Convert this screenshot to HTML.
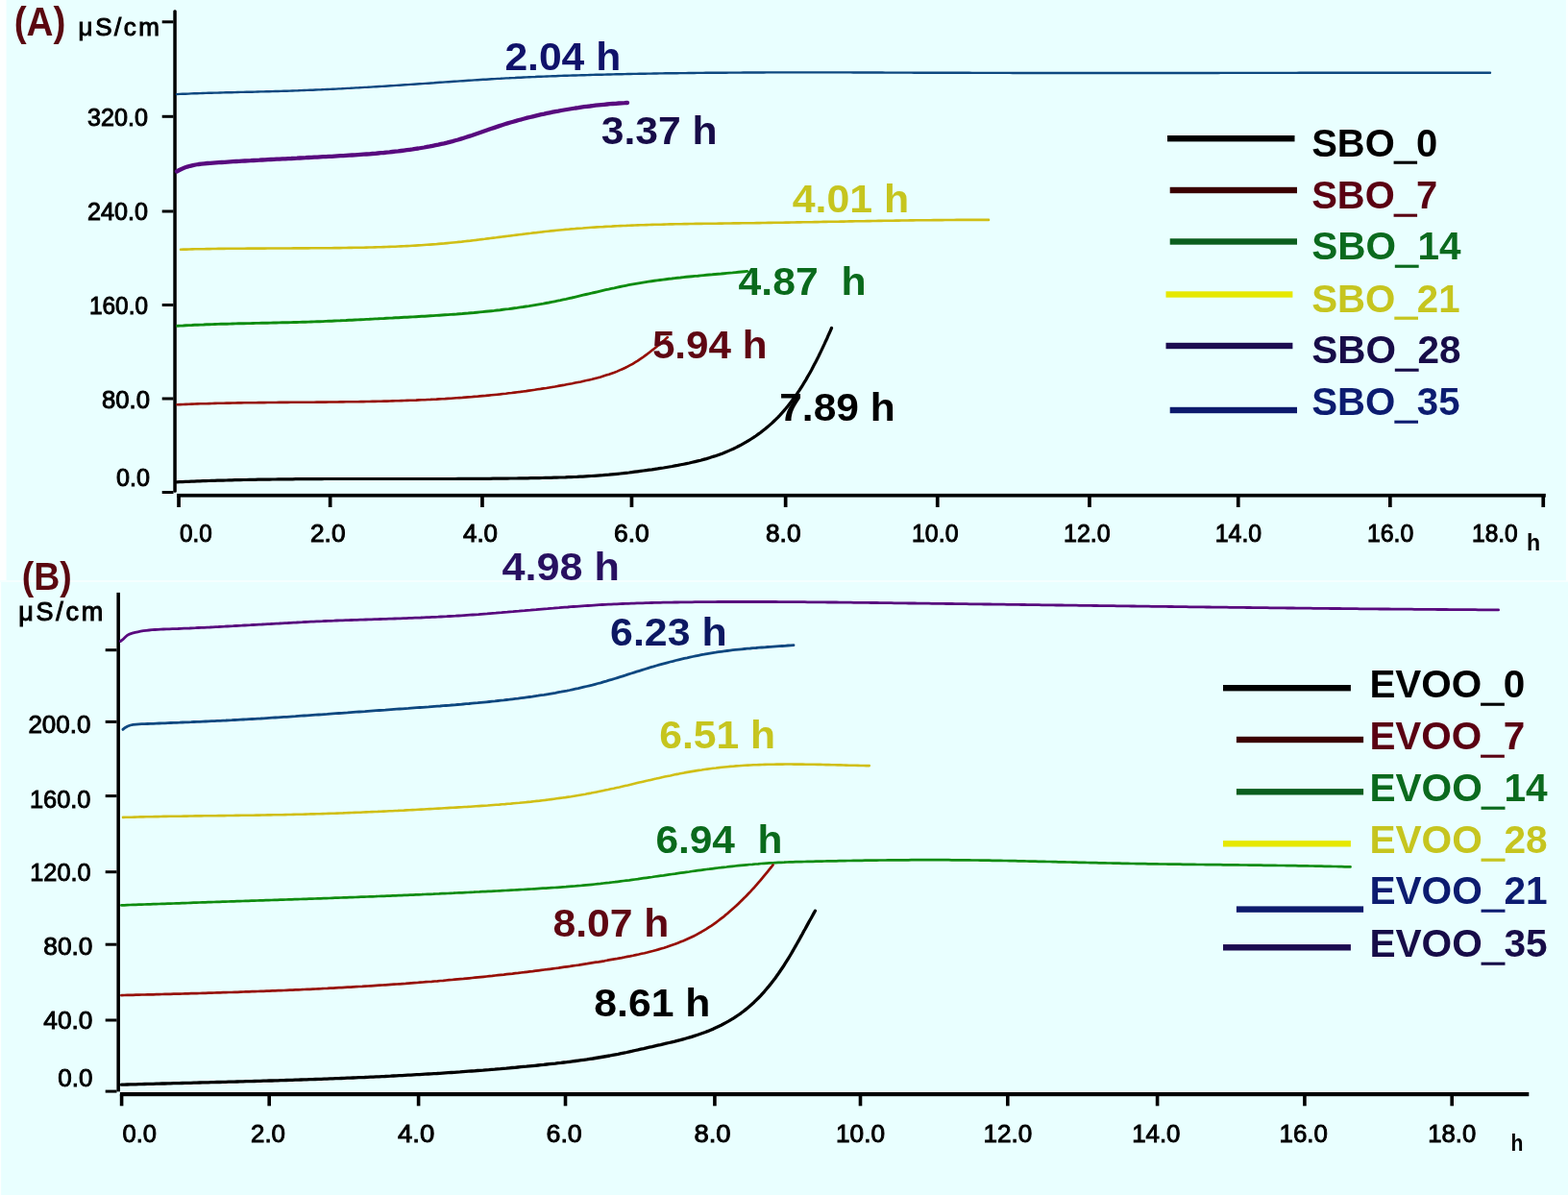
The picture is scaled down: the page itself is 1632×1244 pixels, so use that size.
<!DOCTYPE html>
<html><head><meta charset="utf-8"><title>Conductivity curves</title>
<style>html,body{margin:0;padding:0;background:#e9ffff;}svg{display:block;}</style>
</head><body>
<svg width="1632" height="1244" viewBox="0 0 1632 1244">
<rect x="0" y="0" width="1632" height="1244" fill="#e9ffff"/>
<rect x="0" y="0" width="6.6" height="604.5" fill="#fdffff"/>
<rect x="0" y="604.1" width="1632" height="1.9" fill="#f5ffff"/>
<rect x="1629.9" y="0" width="2.1" height="604.5" fill="#fdffff"/>
<rect x="0" y="606" width="1.1" height="638" fill="#fdffff"/>
<g fill="#000"><rect x="180.3" y="10.3" width="3.5" height="502.5" rx="1.5"/><rect x="168.7" y="21.3" width="11.8" height="3"/><rect x="168.7" y="119.8" width="11.8" height="3"/><rect x="168.7" y="218.5" width="11.8" height="3"/><rect x="168.7" y="316.0" width="11.8" height="3"/><rect x="168.7" y="413.5" width="11.8" height="3"/><rect x="168.7" y="511.0" width="11.8" height="3"/><rect x="184" y="513.9" width="1424.8" height="3.7"/><rect x="184.2" y="515" width="3.7" height="13"/><rect x="341.8" y="515" width="3.7" height="13"/><rect x="500.1" y="515" width="3.7" height="13"/><rect x="655.6" y="515" width="3.7" height="13"/><rect x="815.8" y="515" width="3.7" height="13"/><rect x="973.9" y="515" width="3.7" height="13"/><rect x="1132.1" y="515" width="3.7" height="13"/><rect x="1286.9" y="515" width="3.7" height="13"/><rect x="1445.0" y="515" width="3.7" height="13"/><rect x="1604.4" y="515" width="3.7" height="13"/><rect x="121.4" y="616.9" width="3.6" height="519.5"/><rect x="109.7" y="675.2" width="11.8" height="3"/><rect x="109.7" y="749.9" width="11.8" height="3"/><rect x="109.7" y="827.1" width="11.8" height="3"/><rect x="109.7" y="906.2" width="11.8" height="3"/><rect x="109.7" y="981.7" width="11.8" height="3"/><rect x="109.7" y="1060.5" width="11.8" height="3"/><rect x="109.7" y="1134.6" width="11.8" height="3"/><rect x="124.9" y="1137" width="1466.4" height="4.2"/><rect x="124.8" y="1139" width="3.6" height="12.3"/><rect x="278.4" y="1139" width="3.6" height="12.3"/><rect x="433.8" y="1139" width="3.6" height="12.3"/><rect x="586.7" y="1139" width="3.6" height="12.3"/><rect x="742.1" y="1139" width="3.6" height="12.3"/><rect x="893.7" y="1139" width="3.6" height="12.3"/><rect x="1047.0" y="1139" width="3.6" height="12.3"/><rect x="1202.8" y="1139" width="3.6" height="12.3"/><rect x="1356.1" y="1139" width="3.6" height="12.3"/><rect x="1509.4" y="1139" width="3.6" height="12.3"/></g>
<path d="M184.0,98.1 L187.0,97.9 L190.0,97.8 L193.0,97.7 L196.0,97.6 L199.0,97.4 L202.1,97.3 L205.1,97.2 L208.1,97.1 L211.1,97.0 L214.1,96.9 L217.1,96.8 L220.1,96.7 L223.1,96.6 L226.1,96.6 L229.1,96.5 L232.2,96.4 L235.2,96.3 L238.2,96.2 L241.2,96.2 L244.2,96.1 L247.2,96.0 L250.2,95.9 L253.2,95.9 L256.3,95.8 L259.3,95.7 L262.3,95.7 L265.3,95.6 L268.3,95.5 L271.3,95.4 L274.3,95.4 L277.3,95.3 L280.3,95.2 L283.4,95.1 L286.4,95.0 L289.4,95.0 L292.4,94.9 L295.4,94.8 L298.4,94.7 L301.4,94.6 L304.4,94.5 L307.4,94.4 L310.4,94.3 L313.5,94.1 L316.5,94.0 L319.5,93.9 L322.5,93.8 L325.5,93.7 L328.5,93.5 L331.5,93.4 L334.5,93.3 L337.5,93.1 L340.5,93.0 L343.5,92.9 L346.6,92.7 L349.6,92.6 L352.6,92.4 L355.6,92.3 L358.6,92.1 L361.6,91.9 L364.6,91.8 L367.6,91.6 L370.6,91.4 L373.6,91.3 L376.6,91.1 L379.6,90.9 L382.6,90.8 L385.7,90.6 L388.7,90.4 L391.7,90.2 L394.7,90.0 L397.7,89.9 L400.7,89.7 L403.7,89.5 L406.7,89.3 L409.7,89.1 L412.7,88.9 L415.7,88.7 L418.7,88.5 L421.7,88.3 L424.7,88.1 L427.7,87.9 L430.7,87.7 L433.7,87.5 L436.8,87.3 L439.8,87.1 L442.8,86.9 L445.8,86.7 L448.8,86.5 L451.8,86.3 L454.8,86.0 L457.8,85.8 L460.8,85.6 L463.8,85.4 L466.8,85.2 L469.8,85.0 L472.8,84.8 L475.8,84.6 L478.8,84.4 L481.8,84.2 L484.8,84.0 L487.8,83.8 L490.9,83.6 L493.9,83.4 L496.9,83.2 L499.9,83.0 L502.9,82.8 L505.9,82.7 L508.9,82.5 L511.9,82.3 L514.9,82.1 L517.9,81.9 L520.9,81.8 L523.9,81.6 L526.9,81.4 L529.9,81.3 L533.0,81.1 L536.0,81.0 L539.0,80.8 L542.0,80.7 L545.0,80.5 L548.0,80.4 L551.0,80.2 L554.0,80.1 L557.0,80.0 L560.0,79.8 L563.0,79.7 L566.0,79.6 L569.1,79.5 L572.1,79.4 L575.1,79.3 L578.1,79.2 L581.1,79.0 L584.1,78.9 L587.1,78.8 L590.1,78.7 L593.1,78.6 L596.2,78.5 L599.2,78.5 L602.2,78.4 L605.2,78.3 L608.2,78.2 L611.2,78.1 L614.2,78.0 L617.2,77.9 L620.2,77.8 L623.2,77.8 L626.3,77.7 L629.3,77.6 L632.3,77.5 L635.3,77.5 L638.3,77.4 L641.3,77.3 L644.3,77.2 L647.3,77.2 L650.3,77.1 L653.4,77.0 L656.4,77.0 L659.4,76.9 L662.4,76.9 L665.4,76.8 L668.4,76.7 L671.4,76.7 L674.4,76.6 L677.4,76.6 L680.5,76.5 L683.5,76.5 L686.5,76.4 L689.5,76.4 L692.5,76.3 L695.5,76.3 L698.5,76.3 L701.5,76.2 L704.6,76.2 L707.6,76.1 L710.6,76.1 L713.6,76.1 L716.6,76.0 L719.6,76.0 L722.6,76.0 L725.6,75.9 L728.6,75.9 L731.7,75.9 L734.7,75.8 L737.7,75.8 L740.7,75.8 L743.7,75.7 L746.7,75.7 L749.7,75.7 L752.7,75.7 L755.8,75.7 L758.8,75.6 L761.8,75.6 L764.8,75.6 L767.8,75.6 L770.8,75.6 L773.8,75.5 L776.8,75.5 L779.9,75.5 L782.9,75.5 L785.9,75.5 L788.9,75.5 L791.9,75.5 L794.9,75.5 L797.9,75.4 L800.9,75.4 L803.9,75.4 L807.0,75.4 L810.0,75.4 L813.0,75.4 L816.0,75.4 L819.0,75.4 L822.0,75.4 L825.0,75.4 L828.0,75.4 L831.1,75.4 L834.1,75.4 L837.1,75.4 L840.1,75.4 L843.1,75.4 L846.1,75.4 L849.1,75.4 L852.1,75.4 L855.2,75.4 L858.2,75.4 L861.2,75.4 L864.2,75.4 L867.2,75.4 L870.2,75.4 L873.2,75.4 L876.2,75.4 L879.3,75.4 L882.3,75.4 L885.3,75.4 L888.3,75.5 L891.3,75.5 L894.3,75.5 L897.3,75.5 L900.3,75.5 L903.4,75.5 L906.4,75.5 L909.4,75.5 L912.4,75.5 L915.4,75.5 L918.4,75.5 L921.4,75.6 L924.4,75.6 L927.5,75.6 L930.5,75.6 L933.5,75.6 L936.5,75.6 L939.5,75.6 L942.5,75.6 L945.5,75.6 L948.5,75.6 L951.6,75.7 L954.6,75.7 L957.6,75.7 L960.6,75.7 L963.6,75.7 L966.6,75.7 L969.6,75.7 L972.6,75.7 L975.7,75.7 L978.7,75.8 L981.7,75.8 L984.7,75.8 L987.7,75.8 L990.7,75.8 L993.7,75.8 L996.7,75.8 L999.8,75.8 L1002.8,75.8 L1005.8,75.8 L1008.8,75.8 L1011.8,75.9 L1014.8,75.9 L1017.8,75.9 L1020.8,75.9 L1023.9,75.9 L1026.9,75.9 L1029.9,75.9 L1032.9,75.9 L1035.9,75.9 L1038.9,75.9 L1041.9,75.9 L1044.9,75.9 L1048.0,75.9 L1051.0,75.9 L1054.0,76.0 L1057.0,76.0 L1060.0,76.0 L1063.0,76.0 L1066.0,76.0 L1069.0,76.0 L1072.1,76.0 L1075.1,76.0 L1078.1,76.0 L1081.1,76.0 L1084.1,76.0 L1087.1,76.0 L1090.1,76.0 L1093.1,76.0 L1096.2,76.0 L1099.2,76.0 L1102.2,76.0 L1105.2,76.0 L1108.2,76.0 L1111.2,76.0 L1114.2,76.0 L1117.2,76.0 L1120.3,76.0 L1123.3,76.0 L1126.3,76.0 L1129.3,76.0 L1132.3,76.0 L1135.3,76.0 L1138.3,76.0 L1141.3,76.0 L1144.4,76.0 L1147.4,76.0 L1150.4,76.0 L1153.4,76.0 L1156.4,76.0 L1159.4,76.0 L1162.4,76.0 L1165.4,76.0 L1168.4,76.0 L1171.5,76.0 L1174.5,76.0 L1177.5,76.0 L1180.5,76.0 L1183.5,76.0 L1186.5,76.0 L1189.5,76.0 L1192.5,76.0 L1195.6,76.0 L1198.6,76.0 L1201.6,76.0 L1204.6,76.0 L1207.6,76.0 L1210.6,76.0 L1213.6,76.0 L1216.6,76.0 L1219.7,76.0 L1222.7,76.0 L1225.7,76.0 L1228.7,76.0 L1231.7,76.0 L1234.7,76.0 L1237.7,76.0 L1240.7,76.0 L1243.8,76.0 L1246.8,76.0 L1249.8,76.0 L1252.8,76.0 L1255.8,76.0 L1258.8,76.0 L1261.8,76.0 L1264.8,76.0 L1267.8,76.0 L1270.9,75.9 L1273.9,75.9 L1276.9,75.9 L1279.9,75.9 L1282.9,75.9 L1285.9,75.9 L1288.9,75.9 L1291.9,75.9 L1295.0,75.9 L1298.0,75.9 L1301.0,75.9 L1304.0,75.9 L1307.0,75.9 L1310.0,75.9 L1313.0,75.9 L1316.0,75.9 L1319.1,75.9 L1322.1,75.9 L1325.1,75.9 L1328.1,75.9 L1331.1,75.9 L1334.1,75.9 L1337.1,75.9 L1340.1,75.9 L1343.2,75.9 L1346.2,75.9 L1349.2,75.9 L1352.2,75.8 L1355.2,75.8 L1358.2,75.8 L1361.2,75.8 L1364.2,75.8 L1367.2,75.8 L1370.3,75.8 L1373.3,75.8 L1376.3,75.8 L1379.3,75.8 L1382.3,75.8 L1385.3,75.8 L1388.3,75.8 L1391.3,75.8 L1394.4,75.8 L1397.4,75.8 L1400.4,75.8 L1403.4,75.8 L1406.4,75.8 L1409.4,75.8 L1412.4,75.8 L1415.4,75.8 L1418.5,75.8 L1421.5,75.8 L1424.5,75.8 L1427.5,75.8 L1430.5,75.8 L1433.5,75.8 L1436.5,75.8 L1439.5,75.8 L1442.6,75.8 L1445.6,75.7 L1448.6,75.7 L1451.6,75.7 L1454.6,75.7 L1457.6,75.7 L1460.6,75.7 L1463.6,75.7 L1466.7,75.7 L1469.7,75.7 L1472.7,75.7 L1475.7,75.7 L1478.7,75.7 L1481.7,75.7 L1484.7,75.7 L1487.7,75.7 L1490.8,75.7 L1493.8,75.7 L1496.8,75.7 L1499.8,75.7 L1502.8,75.7 L1505.8,75.7 L1508.8,75.7 L1511.8,75.7 L1514.9,75.7 L1517.9,75.7 L1520.9,75.7 L1523.9,75.7 L1526.9,75.7 L1529.9,75.7 L1532.9,75.7 L1535.9,75.7 L1539.0,75.7 L1542.0,75.7 L1545.0,75.7 L1548.0,75.7 L1551.0,75.7" fill="none" stroke="#0e4880" stroke-width="2.4" stroke-linecap="round" stroke-linejoin="round"/>
<path d="M184.0,178.5 L186.7,177.0 L189.4,175.7 L192.2,174.6 L195.0,173.6 L197.8,172.8 L200.7,172.1 L203.6,171.5 L206.6,171.0 L209.6,170.6 L212.6,170.3 L215.6,170.0 L218.6,169.8 L221.6,169.6 L224.6,169.4 L227.7,169.2 L230.7,169.0 L233.7,168.8 L236.7,168.6 L239.7,168.4 L242.7,168.2 L245.8,168.0 L248.8,167.9 L251.8,167.7 L254.8,167.5 L257.8,167.3 L260.9,167.2 L263.9,167.0 L266.9,166.8 L269.9,166.7 L272.9,166.5 L275.9,166.4 L278.9,166.2 L282.0,166.0 L285.0,165.9 L288.0,165.7 L291.0,165.6 L294.0,165.4 L297.0,165.3 L300.0,165.1 L303.1,165.0 L306.1,164.8 L309.1,164.7 L312.1,164.5 L315.1,164.3 L318.1,164.2 L321.1,164.0 L324.2,163.9 L327.2,163.7 L330.2,163.6 L333.2,163.4 L336.2,163.2 L339.2,163.1 L342.2,162.9 L345.3,162.8 L348.3,162.6 L351.3,162.4 L354.3,162.2 L357.3,162.1 L360.3,161.9 L363.4,161.7 L366.4,161.5 L369.4,161.3 L372.4,161.1 L375.4,160.9 L378.4,160.7 L381.4,160.5 L384.5,160.3 L387.5,160.0 L390.5,159.8 L393.5,159.5 L396.5,159.2 L399.5,159.0 L402.5,158.7 L405.5,158.4 L408.5,158.0 L411.5,157.7 L414.5,157.4 L417.5,157.0 L420.5,156.6 L423.5,156.2 L426.5,155.8 L429.5,155.4 L432.5,154.9 L435.4,154.5 L438.4,154.0 L441.4,153.5 L444.4,152.9 L447.3,152.4 L450.3,151.8 L453.3,151.2 L456.2,150.6 L459.2,149.9 L462.1,149.3 L465.0,148.6 L468.0,147.8 L470.9,147.1 L473.8,146.3 L476.7,145.5 L479.6,144.6 L482.5,143.7 L485.4,142.8 L488.2,141.9 L491.1,141.0 L493.9,140.0 L496.8,139.0 L499.7,138.0 L502.5,137.0 L505.4,136.0 L508.2,135.0 L511.1,134.0 L513.9,133.1 L516.8,132.1 L519.7,131.1 L522.5,130.2 L525.4,129.3 L528.3,128.4 L531.2,127.5 L534.1,126.7 L537.0,125.9 L539.9,125.0 L542.8,124.3 L545.7,123.5 L548.7,122.7 L551.6,122.0 L554.5,121.3 L557.4,120.6 L560.4,119.9 L563.3,119.2 L566.3,118.6 L569.2,117.9 L572.2,117.3 L575.2,116.7 L578.1,116.1 L581.1,115.6 L584.1,115.0 L587.0,114.5 L590.0,114.0 L593.0,113.5 L596.0,113.0 L599.0,112.5 L601.9,112.1 L604.9,111.6 L607.9,111.2 L610.9,110.8 L613.9,110.5 L616.9,110.1 L619.9,109.7 L622.9,109.4 L625.9,109.1 L628.9,108.8 L631.9,108.5 L634.9,108.2 L637.9,108.0 L640.9,107.8 L644.0,107.5 L647.0,107.3 L650.0,107.2 L653.0,107.0" fill="none" stroke="#580a7e" stroke-width="4.3" stroke-linecap="round" stroke-linejoin="round"/>
<path d="M188.0,259.7 L191.0,259.6 L194.0,259.6 L197.0,259.5 L200.1,259.4 L203.1,259.3 L206.1,259.3 L209.1,259.2 L212.1,259.2 L215.1,259.1 L218.2,259.1 L221.2,259.0 L224.2,259.0 L227.2,258.9 L230.2,258.9 L233.3,258.9 L236.3,258.8 L239.3,258.8 L242.3,258.8 L245.3,258.7 L248.3,258.7 L251.4,258.7 L254.4,258.7 L257.4,258.6 L260.4,258.6 L263.4,258.6 L266.5,258.6 L269.5,258.6 L272.5,258.6 L275.5,258.6 L278.5,258.5 L281.6,258.5 L284.6,258.5 L287.6,258.5 L290.6,258.5 L293.6,258.5 L296.7,258.5 L299.7,258.5 L302.7,258.5 L305.7,258.4 L308.7,258.4 L311.8,258.4 L314.8,258.4 L317.8,258.4 L320.8,258.4 L323.8,258.3 L326.9,258.3 L329.9,258.3 L332.9,258.3 L335.9,258.3 L338.9,258.2 L342.0,258.2 L345.0,258.2 L348.0,258.1 L351.0,258.1 L354.0,258.1 L357.1,258.0 L360.1,258.0 L363.1,257.9 L366.1,257.9 L369.1,257.8 L372.2,257.8 L375.2,257.7 L378.2,257.7 L381.2,257.6 L384.2,257.5 L387.2,257.5 L390.3,257.4 L393.3,257.3 L396.3,257.2 L399.3,257.1 L402.3,257.0 L405.3,256.9 L408.4,256.8 L411.4,256.7 L414.4,256.5 L417.4,256.4 L420.4,256.3 L423.4,256.1 L426.4,256.0 L429.5,255.8 L432.5,255.6 L435.5,255.4 L438.5,255.2 L441.5,255.0 L444.5,254.8 L447.5,254.6 L450.5,254.4 L453.5,254.2 L456.5,253.9 L459.5,253.6 L462.5,253.4 L465.5,253.1 L468.6,252.8 L471.6,252.5 L474.6,252.2 L477.6,251.9 L480.6,251.6 L483.6,251.2 L486.6,250.9 L489.6,250.6 L492.6,250.2 L495.6,249.9 L498.5,249.5 L501.5,249.1 L504.5,248.8 L507.5,248.4 L510.5,248.0 L513.5,247.6 L516.5,247.3 L519.5,246.9 L522.5,246.5 L525.5,246.1 L528.5,245.7 L531.5,245.4 L534.5,245.0 L537.5,244.6 L540.5,244.2 L543.5,243.9 L546.5,243.5 L549.5,243.1 L552.5,242.8 L555.5,242.4 L558.5,242.1 L561.5,241.7 L564.5,241.4 L567.5,241.0 L570.5,240.7 L573.5,240.4 L576.5,240.1 L579.5,239.8 L582.5,239.5 L585.5,239.2 L588.5,238.9 L591.5,238.7 L594.5,238.4 L597.5,238.2 L600.5,237.9 L603.5,237.7 L606.5,237.5 L609.5,237.2 L612.6,237.0 L615.6,236.8 L618.6,236.6 L621.6,236.4 L624.6,236.2 L627.6,236.1 L630.6,235.9 L633.6,235.7 L636.6,235.6 L639.7,235.4 L642.7,235.3 L645.7,235.1 L648.7,235.0 L651.7,234.9 L654.7,234.7 L657.7,234.6 L660.8,234.5 L663.8,234.4 L666.8,234.3 L669.8,234.2 L672.8,234.1 L675.8,234.0 L678.9,233.9 L681.9,233.8 L684.9,233.7 L687.9,233.7 L690.9,233.6 L693.9,233.5 L697.0,233.4 L700.0,233.4 L703.0,233.3 L706.0,233.3 L709.0,233.2 L712.1,233.1 L715.1,233.1 L718.1,233.0 L721.1,233.0 L724.1,232.9 L727.2,232.9 L730.2,232.9 L733.2,232.8 L736.2,232.8 L739.2,232.7 L742.3,232.7 L745.3,232.7 L748.3,232.6 L751.3,232.6 L754.3,232.5 L757.4,232.5 L760.4,232.5 L763.4,232.4 L766.4,232.4 L769.4,232.4 L772.5,232.3 L775.5,232.3 L778.5,232.2 L781.5,232.2 L784.5,232.2 L787.6,232.1 L790.6,232.1 L793.6,232.0 L796.6,232.0 L799.6,231.9 L802.7,231.9 L805.7,231.8 L808.7,231.8 L811.7,231.7 L814.7,231.7 L817.7,231.6 L820.8,231.6 L823.8,231.5 L826.8,231.5 L829.8,231.4 L832.8,231.4 L835.9,231.3 L838.9,231.3 L841.9,231.2 L844.9,231.2 L847.9,231.1 L850.9,231.1 L854.0,231.0 L857.0,230.9 L860.0,230.9 L863.0,230.8 L866.0,230.8 L869.0,230.7 L872.1,230.7 L875.1,230.6 L878.1,230.6 L881.1,230.5 L884.1,230.4 L887.1,230.4 L890.2,230.3 L893.2,230.3 L896.2,230.2 L899.2,230.2 L902.2,230.1 L905.2,230.1 L908.3,230.0 L911.3,230.0 L914.3,229.9 L917.3,229.9 L920.3,229.8 L923.3,229.8 L926.4,229.7 L929.4,229.7 L932.4,229.6 L935.4,229.6 L938.4,229.5 L941.5,229.5 L944.5,229.5 L947.5,229.4 L950.5,229.4 L953.5,229.3 L956.5,229.3 L959.6,229.3 L962.6,229.2 L965.6,229.2 L968.6,229.2 L971.6,229.1 L974.6,229.1 L977.7,229.1 L980.7,229.1 L983.7,229.0 L986.7,229.0 L989.7,229.0 L992.8,229.0 L995.8,228.9 L998.8,228.9 L1001.8,228.9 L1004.8,228.9 L1007.9,228.9 L1010.9,228.9 L1013.9,228.9 L1016.9,228.9 L1019.9,228.9 L1023.0,228.9 L1026.0,228.9 L1029.0,228.9" fill="none" stroke="#d0bf16" stroke-width="2.6" stroke-linecap="round" stroke-linejoin="round"/>
<path d="M184.6,339.3 L187.6,339.1 L190.6,339.0 L193.7,338.8 L196.7,338.6 L199.7,338.5 L202.7,338.3 L205.8,338.2 L208.8,338.1 L211.8,338.0 L214.9,337.8 L217.9,337.7 L220.9,337.6 L223.9,337.5 L227.0,337.4 L230.0,337.3 L233.0,337.2 L236.1,337.2 L239.1,337.1 L242.1,337.0 L245.2,336.9 L248.2,336.8 L251.2,336.8 L254.2,336.7 L257.3,336.6 L260.3,336.6 L263.3,336.5 L266.4,336.4 L269.4,336.4 L272.4,336.3 L275.5,336.2 L278.5,336.2 L281.5,336.1 L284.6,336.0 L287.6,336.0 L290.6,335.9 L293.6,335.8 L296.7,335.8 L299.7,335.7 L302.7,335.6 L305.8,335.5 L308.8,335.5 L311.8,335.4 L314.9,335.3 L317.9,335.2 L320.9,335.1 L323.9,335.0 L327.0,334.9 L330.0,334.8 L333.0,334.7 L336.0,334.6 L339.1,334.4 L342.1,334.3 L345.1,334.2 L348.1,334.0 L351.2,333.9 L354.2,333.8 L357.2,333.6 L360.2,333.5 L363.3,333.3 L366.3,333.2 L369.3,333.0 L372.3,332.9 L375.4,332.7 L378.4,332.6 L381.4,332.4 L384.4,332.3 L387.5,332.1 L390.5,331.9 L393.5,331.8 L396.5,331.6 L399.6,331.5 L402.6,331.3 L405.6,331.1 L408.6,331.0 L411.7,330.8 L414.7,330.7 L417.7,330.5 L420.8,330.3 L423.8,330.2 L426.8,330.0 L429.8,329.9 L432.9,329.7 L435.9,329.5 L438.9,329.3 L442.0,329.2 L445.0,329.0 L448.0,328.8 L451.0,328.6 L454.1,328.4 L457.1,328.2 L460.1,328.0 L463.2,327.8 L466.2,327.6 L469.2,327.4 L472.2,327.2 L475.3,327.0 L478.3,326.7 L481.3,326.5 L484.3,326.2 L487.3,326.0 L490.4,325.7 L493.4,325.5 L496.4,325.2 L499.4,324.9 L502.4,324.6 L505.5,324.3 L508.5,324.0 L511.5,323.7 L514.5,323.4 L517.5,323.0 L520.5,322.7 L523.5,322.3 L526.5,321.9 L529.5,321.6 L532.5,321.2 L535.5,320.8 L538.5,320.4 L541.5,319.9 L544.5,319.5 L547.5,319.0 L550.5,318.6 L553.5,318.1 L556.5,317.6 L559.4,317.1 L562.4,316.6 L565.4,316.1 L568.4,315.5 L571.3,315.0 L574.3,314.4 L577.3,313.8 L580.3,313.2 L583.2,312.6 L586.2,311.9 L589.1,311.3 L592.1,310.6 L595.1,310.0 L598.0,309.3 L601.0,308.6 L603.9,307.9 L606.9,307.2 L609.8,306.5 L612.8,305.8 L615.7,305.2 L618.7,304.5 L621.6,303.8 L624.6,303.1 L627.6,302.4 L630.5,301.7 L633.5,301.1 L636.4,300.4 L639.4,299.8 L642.4,299.1 L645.3,298.5 L648.3,297.9 L651.3,297.3 L654.2,296.7 L657.2,296.1 L660.2,295.6 L663.2,295.1 L666.2,294.6 L669.1,294.1 L672.1,293.6 L675.1,293.1 L678.1,292.7 L681.1,292.3 L684.1,291.9 L687.1,291.5 L690.1,291.1 L693.1,290.7 L696.2,290.3 L699.2,290.0 L702.2,289.6 L705.2,289.3 L708.2,289.0 L711.2,288.6 L714.2,288.3 L717.3,288.0 L720.3,287.7 L723.3,287.4 L726.3,287.2 L729.3,286.9 L732.3,286.6 L735.4,286.3 L738.4,286.0 L741.4,285.8 L744.4,285.5 L747.4,285.2 L750.5,285.0 L753.5,284.7 L756.5,284.4 L759.5,284.1 L762.5,283.9 L765.6,283.6 L768.6,283.3 L771.6,283.0 L774.6,282.7 L777.6,282.4" fill="none" stroke="#0f8c10" stroke-width="2.9" stroke-linecap="round" stroke-linejoin="round"/>
<path d="M184.4,421.2 L187.5,421.1 L190.5,421.0 L193.5,420.9 L196.5,420.8 L199.5,420.6 L202.6,420.5 L205.6,420.4 L208.6,420.3 L211.6,420.2 L214.7,420.2 L217.7,420.1 L220.7,420.0 L223.7,419.9 L226.8,419.8 L229.8,419.8 L232.8,419.7 L235.8,419.6 L238.9,419.6 L241.9,419.5 L244.9,419.5 L247.9,419.4 L251.0,419.4 L254.0,419.3 L257.0,419.3 L260.1,419.2 L263.1,419.2 L266.1,419.2 L269.2,419.1 L272.2,419.1 L275.2,419.1 L278.3,419.0 L281.3,419.0 L284.3,419.0 L287.4,419.0 L290.4,418.9 L293.4,418.9 L296.5,418.9 L299.5,418.9 L302.5,418.8 L305.6,418.8 L308.6,418.8 L311.6,418.8 L314.7,418.8 L317.7,418.7 L320.7,418.7 L323.8,418.7 L326.8,418.7 L329.8,418.6 L332.9,418.6 L335.9,418.6 L338.9,418.6 L342.0,418.5 L345.0,418.5 L348.0,418.5 L351.1,418.5 L354.1,418.4 L357.2,418.4 L360.2,418.3 L363.2,418.3 L366.3,418.3 L369.3,418.2 L372.3,418.2 L375.4,418.1 L378.4,418.1 L381.4,418.0 L384.5,418.0 L387.5,417.9 L390.5,417.9 L393.6,417.8 L396.6,417.7 L399.6,417.6 L402.7,417.6 L405.7,417.5 L408.7,417.4 L411.8,417.3 L414.8,417.2 L417.8,417.1 L420.9,417.0 L423.9,416.9 L426.9,416.8 L429.9,416.7 L433.0,416.6 L436.0,416.4 L439.0,416.3 L442.1,416.2 L445.1,416.0 L448.1,415.9 L451.1,415.7 L454.2,415.6 L457.2,415.4 L460.2,415.2 L463.2,415.1 L466.3,414.9 L469.3,414.7 L472.3,414.5 L475.3,414.3 L478.3,414.1 L481.4,413.9 L484.4,413.6 L487.4,413.4 L490.4,413.2 L493.4,412.9 L496.5,412.7 L499.5,412.4 L502.5,412.1 L505.5,411.9 L508.5,411.6 L511.5,411.3 L514.5,411.0 L517.6,410.7 L520.6,410.4 L523.6,410.0 L526.6,409.7 L529.6,409.3 L532.6,409.0 L535.6,408.6 L538.6,408.2 L541.6,407.9 L544.6,407.5 L547.6,407.1 L550.6,406.6 L553.6,406.2 L556.6,405.8 L559.6,405.3 L562.6,404.9 L565.6,404.4 L568.6,404.0 L571.6,403.5 L574.6,403.0 L577.6,402.5 L580.6,401.9 L583.6,401.4 L586.6,400.9 L589.6,400.3 L592.5,399.7 L595.5,399.2 L598.5,398.6 L601.5,398.0 L604.5,397.4 L607.4,396.7 L610.4,396.1 L613.4,395.4 L616.3,394.7 L619.3,393.9 L622.2,393.2 L625.1,392.4 L628.0,391.5 L630.9,390.6 L633.8,389.7 L636.6,388.7 L639.5,387.7 L642.3,386.6 L645.0,385.4 L647.8,384.2 L650.5,383.0 L653.2,381.6 L655.9,380.2 L658.5,378.8 L661.1,377.2 L663.7,375.6 L666.2,373.9 L668.8,372.2 L671.2,370.4 L673.7,368.6 L676.1,366.7 L678.5,364.8 L680.9,362.9 L683.3,361.0 L685.6,359.0 L687.9,357.0 L690.3,355.1 L692.5,353.1 L694.8,351.1" fill="none" stroke="#960f06" stroke-width="2.6" stroke-linecap="round" stroke-linejoin="round"/>
<path d="M184.0,501.8 L187.0,501.7 L190.0,501.6 L193.0,501.4 L196.1,501.3 L199.1,501.2 L202.1,501.1 L205.1,500.9 L208.1,500.8 L211.2,500.7 L214.2,500.6 L217.2,500.5 L220.2,500.4 L223.2,500.3 L226.2,500.2 L229.3,500.1 L232.3,500.1 L235.3,500.0 L238.3,499.9 L241.3,499.8 L244.4,499.7 L247.4,499.7 L250.4,499.6 L253.4,499.5 L256.4,499.5 L259.4,499.4 L262.5,499.4 L265.5,499.3 L268.5,499.2 L271.5,499.2 L274.5,499.1 L277.6,499.1 L280.6,499.1 L283.6,499.0 L286.6,499.0 L289.6,498.9 L292.6,498.9 L295.7,498.9 L298.7,498.8 L301.7,498.8 L304.7,498.8 L307.7,498.7 L310.8,498.7 L313.8,498.7 L316.8,498.7 L319.8,498.6 L322.8,498.6 L325.9,498.6 L328.9,498.6 L331.9,498.6 L334.9,498.6 L337.9,498.5 L340.9,498.5 L344.0,498.5 L347.0,498.5 L350.0,498.5 L353.0,498.5 L356.0,498.5 L359.1,498.5 L362.1,498.5 L365.1,498.5 L368.1,498.5 L371.1,498.5 L374.2,498.5 L377.2,498.5 L380.2,498.5 L383.2,498.5 L386.2,498.5 L389.3,498.5 L392.3,498.5 L395.3,498.5 L398.3,498.5 L401.3,498.5 L404.3,498.5 L407.4,498.5 L410.4,498.5 L413.4,498.5 L416.4,498.5 L419.4,498.5 L422.5,498.5 L425.5,498.5 L428.5,498.5 L431.5,498.5 L434.5,498.5 L437.6,498.5 L440.6,498.5 L443.6,498.5 L446.6,498.5 L449.6,498.5 L452.7,498.5 L455.7,498.5 L458.7,498.5 L461.7,498.5 L464.7,498.5 L467.8,498.5 L470.8,498.5 L473.8,498.5 L476.8,498.4 L479.8,498.4 L482.9,498.4 L485.9,498.4 L488.9,498.4 L491.9,498.4 L494.9,498.4 L498.0,498.3 L501.0,498.3 L504.0,498.3 L507.0,498.3 L510.0,498.3 L513.1,498.2 L516.1,498.2 L519.1,498.2 L522.1,498.1 L525.1,498.1 L528.1,498.1 L531.2,498.0 L534.2,498.0 L537.2,498.0 L540.2,497.9 L543.2,497.9 L546.3,497.8 L549.3,497.8 L552.3,497.7 L555.3,497.7 L558.3,497.6 L561.4,497.6 L564.4,497.5 L567.4,497.4 L570.4,497.4 L573.4,497.3 L576.5,497.2 L579.5,497.1 L582.5,497.0 L585.5,497.0 L588.5,496.9 L591.5,496.7 L594.6,496.6 L597.6,496.5 L600.6,496.4 L603.6,496.2 L606.6,496.1 L609.6,495.9 L612.6,495.7 L615.6,495.5 L618.7,495.3 L621.7,495.1 L624.7,494.9 L627.7,494.7 L630.7,494.4 L633.7,494.2 L636.7,493.9 L639.7,493.6 L642.7,493.3 L645.7,493.0 L648.7,492.7 L651.7,492.3 L654.6,492.0 L657.6,491.6 L660.6,491.2 L663.6,490.8 L666.6,490.4 L669.6,490.0 L672.6,489.6 L675.6,489.2 L678.6,488.8 L681.6,488.3 L684.6,487.9 L687.6,487.4 L690.6,487.0 L693.6,486.5 L696.5,486.0 L699.5,485.5 L702.5,484.9 L705.5,484.4 L708.5,483.8 L711.5,483.2 L714.4,482.6 L717.4,482.0 L720.4,481.3 L723.3,480.6 L726.3,479.9 L729.2,479.2 L732.1,478.4 L735.1,477.6 L738.0,476.7 L740.8,475.8 L743.7,474.9 L746.6,473.9 L749.4,472.9 L752.2,471.9 L755.0,470.8 L757.8,469.6 L760.6,468.4 L763.3,467.2 L766.0,465.9 L768.7,464.5 L771.4,463.1 L774.0,461.7 L776.6,460.2 L779.2,458.6 L781.8,457.0 L784.3,455.4 L786.8,453.7 L789.3,451.9 L791.7,450.2 L794.1,448.3 L796.4,446.5 L798.8,444.5 L801.0,442.6 L803.3,440.6 L805.5,438.5 L807.7,436.4 L809.8,434.3 L811.9,432.1 L813.9,429.9 L815.9,427.6 L817.9,425.3 L819.8,423.0 L821.7,420.6 L823.5,418.3 L825.3,415.8 L827.1,413.4 L828.9,410.9 L830.6,408.4 L832.3,405.9 L833.9,403.3 L835.5,400.8 L837.1,398.2 L838.7,395.6 L840.2,392.9 L841.7,390.3 L843.2,387.7 L844.7,385.0 L846.1,382.3 L847.5,379.6 L848.9,376.9 L850.3,374.2 L851.7,371.5 L853.0,368.8 L854.3,366.1 L855.6,363.4 L856.9,360.6 L858.2,357.9 L859.4,355.2 L860.7,352.5 L861.9,349.7 L863.1,347.0 L864.3,344.3 L865.5,341.5" fill="none" stroke="#000000" stroke-width="3.2" stroke-linecap="round" stroke-linejoin="round"/>
<path d="M125.4,667.5 L127.9,665.7 L130.1,663.6 L132.3,661.5 L134.9,660.1 L137.7,659.2 L140.6,658.4 L143.4,657.8 L146.4,657.2 L149.3,656.7 L152.3,656.3 L155.2,656.0 L158.2,655.7 L161.2,655.5 L164.2,655.3 L167.2,655.1 L170.2,655.0 L173.3,654.9 L176.3,654.8 L179.3,654.7 L182.3,654.6 L185.4,654.5 L188.4,654.3 L191.4,654.2 L194.4,654.1 L197.4,654.0 L200.4,653.8 L203.5,653.7 L206.5,653.5 L209.5,653.4 L212.5,653.3 L215.5,653.1 L218.5,653.0 L221.5,652.8 L224.5,652.6 L227.5,652.5 L230.6,652.3 L233.6,652.2 L236.6,652.0 L239.6,651.8 L242.6,651.7 L245.6,651.5 L248.6,651.3 L251.6,651.2 L254.6,651.0 L257.6,650.8 L260.6,650.7 L263.6,650.5 L266.6,650.3 L269.6,650.1 L272.6,650.0 L275.6,649.8 L278.6,649.6 L281.6,649.5 L284.6,649.3 L287.6,649.1 L290.6,649.0 L293.6,648.8 L296.6,648.6 L299.6,648.5 L302.6,648.3 L305.6,648.1 L308.6,648.0 L311.6,647.8 L314.6,647.7 L317.6,647.5 L320.6,647.4 L323.6,647.2 L326.6,647.1 L329.6,646.9 L332.6,646.8 L335.6,646.7 L338.6,646.5 L341.6,646.4 L344.6,646.3 L347.6,646.2 L350.6,646.0 L353.7,645.9 L356.7,645.8 L359.7,645.7 L362.7,645.6 L365.7,645.5 L368.7,645.4 L371.7,645.3 L374.7,645.2 L377.7,645.1 L380.7,645.0 L383.7,644.9 L386.7,644.8 L389.7,644.7 L392.8,644.6 L395.8,644.5 L398.8,644.4 L401.8,644.3 L404.8,644.2 L407.8,644.1 L410.8,644.0 L413.8,643.9 L416.8,643.8 L419.8,643.7 L422.8,643.6 L425.9,643.4 L428.9,643.3 L431.9,643.2 L434.9,643.1 L437.9,643.0 L440.9,642.8 L443.9,642.7 L446.9,642.6 L449.9,642.4 L452.9,642.3 L455.9,642.2 L458.9,642.0 L461.9,641.8 L464.9,641.7 L467.9,641.5 L471.0,641.3 L474.0,641.2 L477.0,641.0 L480.0,640.8 L483.0,640.6 L486.0,640.4 L489.0,640.2 L492.0,640.0 L495.0,639.8 L498.0,639.6 L501.0,639.3 L504.0,639.1 L507.0,638.9 L510.0,638.6 L513.0,638.4 L516.0,638.2 L519.0,637.9 L522.0,637.7 L525.0,637.4 L528.0,637.2 L531.0,636.9 L534.0,636.7 L537.0,636.4 L540.0,636.2 L543.0,635.9 L546.0,635.7 L549.0,635.4 L552.0,635.2 L555.0,634.9 L558.0,634.7 L561.0,634.4 L564.0,634.1 L566.9,633.9 L569.9,633.7 L572.9,633.4 L575.9,633.2 L578.9,632.9 L581.9,632.7 L584.9,632.4 L587.9,632.2 L590.9,632.0 L593.9,631.7 L596.9,631.5 L599.9,631.3 L602.9,631.1 L605.9,630.9 L608.9,630.7 L611.9,630.5 L614.9,630.3 L617.9,630.1 L620.9,629.9 L623.9,629.7 L626.9,629.5 L630.0,629.4 L633.0,629.2 L636.0,629.1 L639.0,628.9 L642.0,628.8 L645.0,628.6 L648.0,628.5 L651.0,628.4 L654.0,628.3 L657.0,628.2 L660.0,628.1 L663.0,627.9 L666.0,627.9 L669.0,627.8 L672.0,627.7 L675.0,627.6 L678.1,627.5 L681.1,627.4 L684.1,627.4 L687.1,627.3 L690.1,627.2 L693.1,627.2 L696.1,627.1 L699.1,627.1 L702.1,627.0 L705.1,627.0 L708.1,626.9 L711.2,626.9 L714.2,626.8 L717.2,626.8 L720.2,626.8 L723.2,626.7 L726.2,626.7 L729.2,626.7 L732.2,626.6 L735.2,626.6 L738.2,626.6 L741.3,626.6 L744.3,626.6 L747.3,626.5 L750.3,626.5 L753.3,626.5 L756.3,626.5 L759.3,626.5 L762.3,626.5 L765.3,626.5 L768.3,626.5 L771.3,626.5 L774.4,626.5 L777.4,626.5 L780.4,626.5 L783.4,626.5 L786.4,626.5 L789.4,626.5 L792.4,626.5 L795.4,626.5 L798.4,626.5 L801.4,626.5 L804.4,626.5 L807.4,626.5 L810.5,626.6 L813.5,626.6 L816.5,626.6 L819.5,626.6 L822.5,626.6 L825.5,626.6 L828.5,626.7 L831.5,626.7 L834.5,626.7 L837.5,626.7 L840.5,626.8 L843.6,626.8 L846.6,626.8 L849.6,626.8 L852.6,626.9 L855.6,626.9 L858.6,626.9 L861.6,627.0 L864.6,627.0 L867.6,627.0 L870.6,627.0 L873.6,627.1 L876.6,627.1 L879.7,627.1 L882.7,627.2 L885.7,627.2 L888.7,627.3 L891.7,627.3 L894.7,627.3 L897.7,627.4 L900.7,627.4 L903.7,627.4 L906.7,627.5 L909.7,627.5 L912.7,627.5 L915.8,627.6 L918.8,627.6 L921.8,627.7 L924.8,627.7 L927.8,627.7 L930.8,627.8 L933.8,627.8 L936.8,627.8 L939.8,627.9 L942.8,627.9 L945.8,628.0 L948.9,628.0 L951.9,628.0 L954.9,628.1 L957.9,628.1 L960.9,628.1 L963.9,628.2 L966.9,628.2 L969.9,628.3 L972.9,628.3 L975.9,628.3 L978.9,628.4 L981.9,628.4 L985.0,628.5 L988.0,628.5 L991.0,628.5 L994.0,628.6 L997.0,628.6 L1000.0,628.6 L1003.0,628.7 L1006.0,628.7 L1009.0,628.8 L1012.0,628.8 L1015.0,628.8 L1018.0,628.9 L1021.1,628.9 L1024.1,629.0 L1027.1,629.0 L1030.1,629.0 L1033.1,629.1 L1036.1,629.1 L1039.1,629.2 L1042.1,629.2 L1045.1,629.2 L1048.1,629.3 L1051.1,629.3 L1054.1,629.4 L1057.2,629.4 L1060.2,629.4 L1063.2,629.5 L1066.2,629.5 L1069.2,629.6 L1072.2,629.6 L1075.2,629.6 L1078.2,629.7 L1081.2,629.7 L1084.2,629.8 L1087.2,629.8 L1090.3,629.8 L1093.3,629.9 L1096.3,629.9 L1099.3,630.0 L1102.3,630.0 L1105.3,630.0 L1108.3,630.1 L1111.3,630.1 L1114.3,630.2 L1117.3,630.2 L1120.3,630.2 L1123.3,630.3 L1126.4,630.3 L1129.4,630.4 L1132.4,630.4 L1135.4,630.4 L1138.4,630.5 L1141.4,630.5 L1144.4,630.6 L1147.4,630.6 L1150.4,630.6 L1153.4,630.7 L1156.4,630.7 L1159.4,630.7 L1162.5,630.8 L1165.5,630.8 L1168.5,630.9 L1171.5,630.9 L1174.5,630.9 L1177.5,631.0 L1180.5,631.0 L1183.5,631.1 L1186.5,631.1 L1189.5,631.1 L1192.5,631.2 L1195.6,631.2 L1198.6,631.3 L1201.6,631.3 L1204.6,631.3 L1207.6,631.4 L1210.6,631.4 L1213.6,631.4 L1216.6,631.5 L1219.6,631.5 L1222.6,631.6 L1225.6,631.6 L1228.6,631.6 L1231.7,631.7 L1234.7,631.7 L1237.7,631.8 L1240.7,631.8 L1243.7,631.8 L1246.7,631.9 L1249.7,631.9 L1252.7,631.9 L1255.7,632.0 L1258.7,632.0 L1261.7,632.1 L1264.8,632.1 L1267.8,632.1 L1270.8,632.2 L1273.8,632.2 L1276.8,632.2 L1279.8,632.3 L1282.8,632.3 L1285.8,632.3 L1288.8,632.4 L1291.8,632.4 L1294.8,632.4 L1297.8,632.5 L1300.9,632.5 L1303.9,632.6 L1306.9,632.6 L1309.9,632.6 L1312.9,632.7 L1315.9,632.7 L1318.9,632.7 L1321.9,632.8 L1324.9,632.8 L1327.9,632.8 L1330.9,632.9 L1333.9,632.9 L1337.0,632.9 L1340.0,633.0 L1343.0,633.0 L1346.0,633.0 L1349.0,633.1 L1352.0,633.1 L1355.0,633.1 L1358.0,633.2 L1361.0,633.2 L1364.0,633.2 L1367.0,633.3 L1370.1,633.3 L1373.1,633.3 L1376.1,633.4 L1379.1,633.4 L1382.1,633.4 L1385.1,633.5 L1388.1,633.5 L1391.1,633.5 L1394.1,633.5 L1397.1,633.6 L1400.1,633.6 L1403.1,633.6 L1406.2,633.7 L1409.2,633.7 L1412.2,633.7 L1415.2,633.8 L1418.2,633.8 L1421.2,633.8 L1424.2,633.8 L1427.2,633.9 L1430.2,633.9 L1433.2,633.9 L1436.2,634.0 L1439.3,634.0 L1442.3,634.0 L1445.3,634.0 L1448.3,634.1 L1451.3,634.1 L1454.3,634.1 L1457.3,634.1 L1460.3,634.2 L1463.3,634.2 L1466.3,634.2 L1469.3,634.2 L1472.3,634.3 L1475.4,634.3 L1478.4,634.3 L1481.4,634.3 L1484.4,634.4 L1487.4,634.4 L1490.4,634.4 L1493.4,634.4 L1496.4,634.5 L1499.4,634.5 L1502.4,634.5 L1505.4,634.5 L1508.5,634.6 L1511.5,634.6 L1514.5,634.6 L1517.5,634.6 L1520.5,634.6 L1523.5,634.7 L1526.5,634.7 L1529.5,634.7 L1532.5,634.7 L1535.5,634.7 L1538.5,634.8 L1541.5,634.8 L1544.6,634.8 L1547.6,634.8 L1550.6,634.8 L1553.6,634.9 L1556.6,634.9 L1559.6,634.9" fill="none" stroke="#580a7e" stroke-width="2.8" stroke-linecap="round" stroke-linejoin="round"/>
<path d="M127.9,759.4 L130.3,757.4 L132.9,756.0 L135.6,755.0 L138.5,754.4 L141.5,754.1 L144.5,753.9 L147.5,753.7 L150.5,753.6 L153.6,753.5 L156.6,753.4 L159.6,753.3 L162.7,753.1 L165.7,753.0 L168.7,752.9 L171.8,752.8 L174.8,752.6 L177.8,752.5 L180.8,752.4 L183.9,752.3 L186.9,752.2 L189.9,752.0 L192.9,751.9 L195.9,751.8 L198.9,751.7 L202.0,751.5 L205.0,751.4 L208.0,751.3 L211.0,751.1 L214.0,751.0 L217.0,750.9 L220.1,750.7 L223.1,750.6 L226.1,750.4 L229.1,750.3 L232.1,750.1 L235.1,750.0 L238.1,749.8 L241.2,749.7 L244.2,749.5 L247.2,749.4 L250.2,749.2 L253.2,749.0 L256.2,748.9 L259.2,748.7 L262.3,748.5 L265.3,748.3 L268.3,748.1 L271.3,748.0 L274.3,747.8 L277.3,747.6 L280.3,747.4 L283.4,747.2 L286.4,747.0 L289.4,746.8 L292.4,746.6 L295.4,746.4 L298.4,746.3 L301.4,746.1 L304.4,745.9 L307.5,745.7 L310.5,745.4 L313.5,745.2 L316.5,745.0 L319.5,744.8 L322.5,744.6 L325.5,744.4 L328.6,744.2 L331.6,744.0 L334.6,743.8 L337.6,743.6 L340.6,743.4 L343.6,743.1 L346.6,742.9 L349.7,742.7 L352.7,742.5 L355.7,742.3 L358.7,742.1 L361.7,741.9 L364.7,741.6 L367.7,741.4 L370.7,741.2 L373.8,741.0 L376.8,740.8 L379.8,740.6 L382.8,740.3 L385.8,740.1 L388.8,739.9 L391.8,739.7 L394.9,739.5 L397.9,739.3 L400.9,739.1 L403.9,738.8 L406.9,738.6 L409.9,738.4 L412.9,738.2 L415.9,738.0 L419.0,737.8 L422.0,737.6 L425.0,737.4 L428.0,737.1 L431.0,736.9 L434.0,736.7 L437.0,736.5 L440.0,736.3 L443.1,736.1 L446.1,735.9 L449.1,735.6 L452.1,735.4 L455.1,735.2 L458.1,735.0 L461.1,734.7 L464.1,734.5 L467.1,734.3 L470.2,734.0 L473.2,733.8 L476.2,733.5 L479.2,733.3 L482.2,733.0 L485.2,732.7 L488.2,732.5 L491.2,732.2 L494.2,731.9 L497.2,731.7 L500.2,731.4 L503.2,731.1 L506.2,730.8 L509.2,730.5 L512.2,730.2 L515.2,729.9 L518.3,729.5 L521.3,729.2 L524.3,728.9 L527.3,728.5 L530.3,728.2 L533.3,727.8 L536.3,727.4 L539.3,727.1 L542.2,726.7 L545.2,726.3 L548.2,725.9 L551.2,725.5 L554.2,725.1 L557.2,724.6 L560.2,724.2 L563.2,723.7 L566.2,723.3 L569.2,722.8 L572.1,722.3 L575.1,721.8 L578.1,721.3 L581.1,720.7 L584.0,720.2 L587.0,719.6 L590.0,719.1 L592.9,718.5 L595.9,717.8 L598.8,717.2 L601.8,716.6 L604.7,715.9 L607.7,715.2 L610.6,714.5 L613.5,713.8 L616.5,713.1 L619.4,712.3 L622.3,711.5 L625.2,710.8 L628.1,709.9 L631.0,709.1 L633.9,708.2 L636.8,707.4 L639.7,706.5 L642.6,705.6 L645.5,704.7 L648.3,703.8 L651.2,702.9 L654.1,701.9 L657.0,701.0 L659.9,700.1 L662.7,699.2 L665.6,698.3 L668.5,697.4 L671.4,696.5 L674.3,695.6 L677.2,694.7 L680.1,693.9 L683.0,693.0 L685.9,692.2 L688.8,691.4 L691.7,690.6 L694.6,689.8 L697.6,689.0 L700.5,688.3 L703.4,687.5 L706.3,686.8 L709.3,686.1 L712.2,685.4 L715.2,684.8 L718.1,684.1 L721.1,683.5 L724.0,682.9 L727.0,682.3 L729.9,681.7 L732.9,681.2 L735.9,680.6 L738.9,680.1 L741.8,679.6 L744.8,679.2 L747.8,678.7 L750.8,678.3 L753.8,677.9 L756.8,677.5 L759.8,677.1 L762.8,676.7 L765.8,676.4 L768.8,676.1 L771.8,675.8 L774.8,675.5 L777.8,675.2 L780.8,675.0 L783.8,674.7 L786.9,674.5 L789.9,674.2 L792.9,674.0 L795.9,673.8 L798.9,673.5 L801.9,673.3 L804.9,673.1 L808.0,672.9 L811.0,672.7 L814.0,672.5 L817.0,672.3 L820.0,672.0 L823.0,671.8 L826.0,671.6" fill="none" stroke="#0e4880" stroke-width="2.8" stroke-linecap="round" stroke-linejoin="round"/>
<path d="M128.0,850.9 L131.0,850.8 L134.0,850.7 L137.0,850.7 L140.0,850.6 L143.1,850.5 L146.1,850.4 L149.1,850.4 L152.1,850.3 L155.1,850.2 L158.1,850.2 L161.1,850.1 L164.2,850.1 L167.2,850.0 L170.2,849.9 L173.2,849.9 L176.2,849.8 L179.2,849.8 L182.2,849.7 L185.2,849.7 L188.3,849.7 L191.3,849.6 L194.3,849.6 L197.3,849.5 L200.3,849.5 L203.3,849.4 L206.4,849.4 L209.4,849.4 L212.4,849.3 L215.4,849.3 L218.4,849.3 L221.4,849.2 L224.4,849.2 L227.5,849.1 L230.5,849.1 L233.5,849.1 L236.5,849.0 L239.5,849.0 L242.5,849.0 L245.5,848.9 L248.6,848.9 L251.6,848.8 L254.6,848.8 L257.6,848.8 L260.6,848.7 L263.6,848.7 L266.7,848.6 L269.7,848.6 L272.7,848.5 L275.7,848.5 L278.7,848.4 L281.7,848.4 L284.7,848.3 L287.8,848.3 L290.8,848.2 L293.8,848.2 L296.8,848.1 L299.8,848.0 L302.8,848.0 L305.8,847.9 L308.8,847.8 L311.9,847.8 L314.9,847.7 L317.9,847.6 L320.9,847.5 L323.9,847.4 L326.9,847.4 L329.9,847.3 L332.9,847.2 L336.0,847.1 L339.0,847.0 L342.0,846.9 L345.0,846.8 L348.0,846.7 L351.0,846.6 L354.0,846.5 L357.0,846.4 L360.0,846.2 L363.1,846.1 L366.1,846.0 L369.1,845.9 L372.1,845.8 L375.1,845.7 L378.1,845.5 L381.1,845.4 L384.1,845.3 L387.1,845.1 L390.2,845.0 L393.2,844.9 L396.2,844.7 L399.2,844.6 L402.2,844.5 L405.2,844.3 L408.2,844.2 L411.2,844.0 L414.2,843.9 L417.2,843.7 L420.3,843.6 L423.3,843.4 L426.3,843.3 L429.3,843.1 L432.3,843.0 L435.3,842.8 L438.3,842.6 L441.3,842.5 L444.3,842.3 L447.4,842.1 L450.4,842.0 L453.4,841.8 L456.4,841.6 L459.4,841.5 L462.4,841.3 L465.4,841.1 L468.4,840.9 L471.4,840.8 L474.5,840.6 L477.5,840.4 L480.5,840.2 L483.5,840.0 L486.5,839.9 L489.5,839.7 L492.5,839.5 L495.5,839.3 L498.5,839.1 L501.6,838.9 L504.6,838.7 L507.6,838.5 L510.6,838.2 L513.6,838.0 L516.6,837.8 L519.6,837.6 L522.6,837.3 L525.6,837.1 L528.6,836.8 L531.6,836.6 L534.6,836.3 L537.6,836.0 L540.6,835.8 L543.6,835.5 L546.6,835.2 L549.6,834.9 L552.6,834.6 L555.6,834.2 L558.6,833.9 L561.6,833.6 L564.6,833.2 L567.6,832.9 L570.6,832.5 L573.6,832.1 L576.5,831.7 L579.5,831.3 L582.5,830.9 L585.5,830.5 L588.5,830.1 L591.5,829.6 L594.4,829.2 L597.4,828.7 L600.4,828.2 L603.3,827.7 L606.3,827.2 L609.3,826.7 L612.2,826.1 L615.2,825.6 L618.2,825.0 L621.1,824.4 L624.1,823.8 L627.0,823.2 L630.0,822.6 L632.9,822.0 L635.9,821.3 L638.8,820.7 L641.8,820.0 L644.7,819.4 L647.6,818.7 L650.6,818.0 L653.5,817.4 L656.5,816.7 L659.4,816.0 L662.3,815.3 L665.3,814.6 L668.2,813.9 L671.2,813.2 L674.1,812.6 L677.1,811.9 L680.0,811.2 L682.9,810.6 L685.9,809.9 L688.8,809.2 L691.8,808.6 L694.7,808.0 L697.7,807.4 L700.6,806.7 L703.6,806.1 L706.5,805.6 L709.5,805.0 L712.4,804.4 L715.4,803.9 L718.4,803.4 L721.3,802.9 L724.3,802.4 L727.3,801.9 L730.3,801.5 L733.2,801.0 L736.2,800.6 L739.2,800.2 L742.2,799.8 L745.2,799.5 L748.2,799.1 L751.1,798.8 L754.1,798.5 L757.1,798.2 L760.1,797.9 L763.1,797.7 L766.1,797.4 L769.1,797.2 L772.1,797.0 L775.1,796.8 L778.2,796.6 L781.2,796.5 L784.2,796.3 L787.2,796.2 L790.2,796.1 L793.2,796.0 L796.2,795.9 L799.2,795.8 L802.3,795.7 L805.3,795.7 L808.3,795.6 L811.3,795.6 L814.3,795.6 L817.4,795.5 L820.4,795.5 L823.4,795.5 L826.4,795.6 L829.4,795.6 L832.5,795.6 L835.5,795.6 L838.5,795.7 L841.5,795.7 L844.6,795.8 L847.6,795.8 L850.6,795.9 L853.6,795.9 L856.6,796.0 L859.7,796.1 L862.7,796.1 L865.7,796.2 L868.7,796.3 L871.7,796.4 L874.7,796.4 L877.7,796.5 L880.8,796.6 L883.8,796.7 L886.8,796.7 L889.8,796.8 L892.8,796.9 L895.8,797.0 L898.8,797.0 L901.8,797.1 L904.8,797.1" fill="none" stroke="#d0bf16" stroke-width="2.6" stroke-linecap="round" stroke-linejoin="round"/>
<path d="M126.4,942.4 L129.4,942.3 L132.4,942.1 L135.4,942.0 L138.4,941.9 L141.4,941.8 L144.4,941.7 L147.4,941.6 L150.4,941.5 L153.4,941.4 L156.5,941.3 L159.5,941.2 L162.5,941.1 L165.5,941.0 L168.5,940.9 L171.5,940.8 L174.5,940.7 L177.5,940.6 L180.5,940.5 L183.5,940.4 L186.5,940.3 L189.5,940.2 L192.5,940.1 L195.5,940.0 L198.5,939.8 L201.5,939.7 L204.5,939.6 L207.5,939.5 L210.6,939.4 L213.6,939.3 L216.6,939.2 L219.6,939.1 L222.6,939.0 L225.6,938.9 L228.6,938.8 L231.6,938.7 L234.6,938.6 L237.6,938.5 L240.6,938.4 L243.6,938.3 L246.6,938.2 L249.6,938.1 L252.6,938.0 L255.6,937.9 L258.6,937.8 L261.7,937.7 L264.7,937.6 L267.7,937.5 L270.7,937.4 L273.7,937.3 L276.7,937.2 L279.7,937.1 L282.7,937.0 L285.7,936.9 L288.7,936.8 L291.7,936.7 L294.7,936.6 L297.7,936.5 L300.7,936.4 L303.7,936.3 L306.7,936.2 L309.7,936.1 L312.7,936.0 L315.8,935.9 L318.8,935.8 L321.8,935.7 L324.8,935.6 L327.8,935.5 L330.8,935.4 L333.8,935.3 L336.8,935.2 L339.8,935.1 L342.8,935.0 L345.8,934.8 L348.8,934.7 L351.8,934.6 L354.8,934.5 L357.8,934.4 L360.8,934.3 L363.8,934.2 L366.8,934.1 L369.9,934.0 L372.9,933.8 L375.9,933.7 L378.9,933.6 L381.9,933.5 L384.9,933.4 L387.9,933.3 L390.9,933.2 L393.9,933.0 L396.9,932.9 L399.9,932.8 L402.9,932.7 L405.9,932.6 L408.9,932.4 L411.9,932.3 L414.9,932.2 L417.9,932.1 L420.9,931.9 L423.9,931.8 L426.9,931.7 L429.9,931.6 L433.0,931.4 L436.0,931.3 L439.0,931.2 L442.0,931.0 L445.0,930.9 L448.0,930.8 L451.0,930.7 L454.0,930.5 L457.0,930.4 L460.0,930.2 L463.0,930.1 L466.0,930.0 L469.0,929.8 L472.0,929.7 L475.0,929.5 L478.0,929.4 L481.0,929.3 L484.0,929.1 L487.0,929.0 L490.0,928.8 L493.0,928.7 L496.0,928.5 L499.0,928.4 L502.0,928.2 L505.1,928.1 L508.1,927.9 L511.1,927.8 L514.1,927.6 L517.1,927.5 L520.1,927.3 L523.1,927.1 L526.1,927.0 L529.1,926.8 L532.1,926.6 L535.1,926.5 L538.1,926.3 L541.1,926.1 L544.1,926.0 L547.1,925.8 L550.1,925.6 L553.1,925.5 L556.1,925.3 L559.1,925.1 L562.1,924.9 L565.1,924.7 L568.1,924.6 L571.1,924.4 L574.1,924.2 L577.1,924.0 L580.1,923.8 L583.1,923.6 L586.1,923.4 L589.1,923.2 L592.1,922.9 L595.1,922.7 L598.1,922.5 L601.1,922.2 L604.1,922.0 L607.1,921.7 L610.1,921.4 L613.1,921.1 L616.1,920.8 L619.1,920.5 L622.1,920.2 L625.0,919.9 L628.0,919.5 L631.0,919.2 L634.0,918.9 L637.0,918.5 L640.0,918.2 L643.0,917.8 L645.9,917.4 L648.9,917.0 L651.9,916.6 L654.9,916.3 L657.9,915.9 L660.9,915.5 L663.8,915.1 L666.8,914.6 L669.8,914.2 L672.8,913.8 L675.8,913.4 L678.7,913.0 L681.7,912.5 L684.7,912.1 L687.7,911.7 L690.6,911.3 L693.6,910.8 L696.6,910.4 L699.6,910.0 L702.6,909.6 L705.5,909.1 L708.5,908.7 L711.5,908.3 L714.5,907.9 L717.5,907.5 L720.4,907.0 L723.4,906.6 L726.4,906.2 L729.4,905.8 L732.4,905.4 L735.3,905.0 L738.3,904.7 L741.3,904.3 L744.3,903.9 L747.3,903.5 L750.3,903.2 L753.2,902.8 L756.2,902.5 L759.2,902.1 L762.2,901.8 L765.2,901.5 L768.2,901.2 L771.2,900.9 L774.2,900.6 L777.2,900.3 L780.1,900.0 L783.1,899.8 L786.1,899.5 L789.1,899.3 L792.1,899.0 L795.1,898.8 L798.1,898.6 L801.1,898.4 L804.1,898.3 L807.1,898.1 L810.1,897.9 L813.1,897.8 L816.1,897.7 L819.1,897.5 L822.1,897.4 L825.1,897.3 L828.2,897.2 L831.2,897.1 L834.2,897.1 L837.2,897.0 L840.2,896.9 L843.2,896.8 L846.2,896.8 L849.2,896.7 L852.2,896.6 L855.2,896.6 L858.2,896.5 L861.2,896.4 L864.3,896.4 L867.3,896.3 L870.3,896.3 L873.3,896.2 L876.3,896.1 L879.3,896.1 L882.3,896.0 L885.3,896.0 L888.3,895.9 L891.3,895.9 L894.3,895.8 L897.3,895.8 L900.3,895.7 L903.4,895.7 L906.4,895.7 L909.4,895.6 L912.4,895.6 L915.4,895.5 L918.4,895.5 L921.4,895.5 L924.4,895.4 L927.4,895.4 L930.4,895.4 L933.4,895.3 L936.4,895.3 L939.4,895.3 L942.4,895.3 L945.4,895.3 L948.5,895.2 L951.5,895.2 L954.5,895.2 L957.5,895.2 L960.5,895.2 L963.5,895.2 L966.5,895.2 L969.5,895.2 L972.5,895.2 L975.5,895.2 L978.5,895.2 L981.5,895.2 L984.5,895.2 L987.5,895.2 L990.5,895.3 L993.6,895.3 L996.6,895.3 L999.6,895.3 L1002.6,895.4 L1005.6,895.4 L1008.6,895.4 L1011.6,895.5 L1014.6,895.5 L1017.6,895.5 L1020.6,895.6 L1023.6,895.6 L1026.6,895.7 L1029.6,895.7 L1032.6,895.8 L1035.6,895.8 L1038.7,895.9 L1041.7,895.9 L1044.7,896.0 L1047.7,896.0 L1050.7,896.1 L1053.7,896.2 L1056.7,896.2 L1059.7,896.3 L1062.7,896.4 L1065.7,896.4 L1068.7,896.5 L1071.7,896.6 L1074.7,896.6 L1077.7,896.7 L1080.7,896.8 L1083.8,896.8 L1086.8,896.9 L1089.8,897.0 L1092.8,897.0 L1095.8,897.1 L1098.8,897.2 L1101.8,897.3 L1104.8,897.3 L1107.8,897.4 L1110.8,897.5 L1113.8,897.5 L1116.8,897.6 L1119.8,897.7 L1122.8,897.8 L1125.8,897.8 L1128.9,897.9 L1131.9,898.0 L1134.9,898.1 L1137.9,898.1 L1140.9,898.2 L1143.9,898.3 L1146.9,898.3 L1149.9,898.4 L1152.9,898.5 L1155.9,898.5 L1158.9,898.6 L1161.9,898.7 L1164.9,898.7 L1167.9,898.8 L1171.0,898.8 L1174.0,898.9 L1177.0,899.0 L1180.0,899.0 L1183.0,899.1 L1186.0,899.1 L1189.0,899.2 L1192.0,899.2 L1195.0,899.3 L1198.0,899.3 L1201.0,899.4 L1204.0,899.4 L1207.0,899.5 L1210.0,899.5 L1213.1,899.5 L1216.1,899.6 L1219.1,899.6 L1222.1,899.7 L1225.1,899.7 L1228.1,899.7 L1231.1,899.8 L1234.1,899.8 L1237.1,899.9 L1240.1,899.9 L1243.1,899.9 L1246.1,900.0 L1249.1,900.0 L1252.1,900.0 L1255.1,900.1 L1258.2,900.1 L1261.2,900.1 L1264.2,900.2 L1267.2,900.2 L1270.2,900.2 L1273.2,900.3 L1276.2,900.3 L1279.2,900.3 L1282.2,900.4 L1285.2,900.4 L1288.2,900.4 L1291.2,900.5 L1294.2,900.5 L1297.2,900.5 L1300.3,900.6 L1303.3,900.6 L1306.3,900.6 L1309.3,900.7 L1312.3,900.7 L1315.3,900.8 L1318.3,900.8 L1321.3,900.8 L1324.3,900.9 L1327.3,900.9 L1330.3,901.0 L1333.3,901.0 L1336.3,901.0 L1339.3,901.1 L1342.4,901.1 L1345.4,901.2 L1348.4,901.2 L1351.4,901.3 L1354.4,901.3 L1357.4,901.4 L1360.4,901.4 L1363.4,901.5 L1366.4,901.5 L1369.4,901.6 L1372.4,901.7 L1375.4,901.7 L1378.4,901.8 L1381.4,901.8 L1384.5,901.9 L1387.5,902.0 L1390.5,902.0 L1393.5,902.1 L1396.5,902.2 L1399.5,902.3 L1402.5,902.3 L1405.5,902.4" fill="none" stroke="#0f8c10" stroke-width="2.7" stroke-linecap="round" stroke-linejoin="round"/>
<path d="M126.4,1036.1 L129.4,1036.0 L132.4,1035.9 L135.5,1035.8 L138.5,1035.8 L141.5,1035.7 L144.5,1035.6 L147.5,1035.5 L150.6,1035.5 L153.6,1035.4 L156.6,1035.3 L159.6,1035.3 L162.6,1035.2 L165.6,1035.1 L168.7,1035.0 L171.7,1034.9 L174.7,1034.9 L177.7,1034.8 L180.7,1034.7 L183.8,1034.6 L186.8,1034.6 L189.8,1034.5 L192.8,1034.4 L195.8,1034.3 L198.9,1034.2 L201.9,1034.1 L204.9,1034.1 L207.9,1034.0 L210.9,1033.9 L214.0,1033.8 L217.0,1033.7 L220.0,1033.6 L223.0,1033.5 L226.0,1033.4 L229.1,1033.3 L232.1,1033.2 L235.1,1033.1 L238.1,1033.0 L241.1,1033.0 L244.2,1032.9 L247.2,1032.8 L250.2,1032.6 L253.2,1032.5 L256.2,1032.4 L259.3,1032.3 L262.3,1032.2 L265.3,1032.1 L268.3,1032.0 L271.3,1031.9 L274.4,1031.8 L277.4,1031.7 L280.4,1031.6 L283.4,1031.4 L286.4,1031.3 L289.4,1031.2 L292.5,1031.1 L295.5,1031.0 L298.5,1030.8 L301.5,1030.7 L304.5,1030.6 L307.6,1030.4 L310.6,1030.3 L313.6,1030.2 L316.6,1030.0 L319.6,1029.9 L322.7,1029.8 L325.7,1029.6 L328.7,1029.5 L331.7,1029.3 L334.7,1029.2 L337.7,1029.0 L340.8,1028.9 L343.8,1028.7 L346.8,1028.6 L349.8,1028.4 L352.8,1028.2 L355.8,1028.1 L358.9,1027.9 L361.9,1027.7 L364.9,1027.6 L367.9,1027.4 L370.9,1027.2 L373.9,1027.0 L377.0,1026.9 L380.0,1026.7 L383.0,1026.5 L386.0,1026.3 L389.0,1026.1 L392.0,1025.9 L395.0,1025.7 L398.1,1025.5 L401.1,1025.3 L404.1,1025.1 L407.1,1024.9 L410.1,1024.7 L413.1,1024.5 L416.1,1024.3 L419.1,1024.1 L422.2,1023.9 L425.2,1023.6 L428.2,1023.4 L431.2,1023.2 L434.2,1023.0 L437.2,1022.7 L440.2,1022.5 L443.2,1022.2 L446.2,1022.0 L449.3,1021.8 L452.3,1021.5 L455.3,1021.3 L458.3,1021.0 L461.3,1020.8 L464.3,1020.5 L467.3,1020.2 L470.3,1020.0 L473.3,1019.7 L476.3,1019.4 L479.3,1019.1 L482.4,1018.9 L485.4,1018.6 L488.4,1018.3 L491.4,1018.0 L494.4,1017.7 L497.4,1017.4 L500.4,1017.1 L503.4,1016.8 L506.4,1016.5 L509.4,1016.2 L512.4,1015.9 L515.4,1015.5 L518.4,1015.2 L521.4,1014.9 L524.4,1014.6 L527.4,1014.2 L530.4,1013.9 L533.4,1013.6 L536.4,1013.2 L539.4,1012.9 L542.4,1012.5 L545.4,1012.2 L548.4,1011.8 L551.4,1011.4 L554.4,1011.1 L557.4,1010.7 L560.4,1010.3 L563.4,1009.9 L566.4,1009.5 L569.4,1009.2 L572.4,1008.8 L575.4,1008.4 L578.4,1008.0 L581.4,1007.6 L584.4,1007.1 L587.4,1006.7 L590.4,1006.3 L593.4,1005.9 L596.4,1005.4 L599.4,1005.0 L602.3,1004.6 L605.3,1004.1 L608.3,1003.6 L611.3,1003.2 L614.3,1002.7 L617.3,1002.2 L620.2,1001.7 L623.2,1001.3 L626.2,1000.8 L629.2,1000.3 L632.2,999.7 L635.1,999.2 L638.1,998.7 L641.1,998.2 L644.0,997.6 L647.0,997.1 L650.0,996.5 L652.9,995.9 L655.9,995.4 L658.9,994.8 L661.8,994.1 L664.8,993.5 L667.7,992.8 L670.7,992.2 L673.6,991.5 L676.5,990.7 L679.4,990.0 L682.4,989.2 L685.3,988.4 L688.2,987.5 L691.1,986.7 L694.0,985.8 L696.8,984.8 L699.7,983.8 L702.6,982.8 L705.4,981.7 L708.2,980.6 L711.0,979.5 L713.8,978.3 L716.5,977.1 L719.3,975.8 L722.0,974.5 L724.7,973.1 L727.3,971.6 L729.9,970.2 L732.6,968.6 L735.1,967.1 L737.7,965.4 L740.2,963.8 L742.7,962.1 L745.2,960.3 L747.6,958.5 L750.0,956.7 L752.4,954.9 L754.7,952.9 L757.1,951.0 L759.3,949.0 L761.6,947.0 L763.9,945.0 L766.1,943.0 L768.3,940.9 L770.5,938.8 L772.6,936.7 L774.8,934.6 L776.9,932.5 L779.0,930.3 L781.1,928.1 L783.1,925.9 L785.2,923.7 L787.2,921.4 L789.1,919.2 L791.1,916.9 L793.0,914.6 L795.0,912.2 L796.9,909.9 L798.8,907.6 L800.7,905.2 L802.6,902.8 L804.5,900.5" fill="none" stroke="#960f06" stroke-width="2.7" stroke-linecap="round" stroke-linejoin="round"/>
<path d="M126.4,1129.2 L129.4,1129.1 L132.4,1129.0 L135.4,1128.9 L138.5,1128.9 L141.5,1128.8 L144.5,1128.7 L147.5,1128.6 L150.5,1128.5 L153.5,1128.4 L156.5,1128.4 L159.5,1128.3 L162.6,1128.2 L165.6,1128.1 L168.6,1128.0 L171.6,1128.0 L174.6,1127.9 L177.6,1127.8 L180.6,1127.7 L183.7,1127.6 L186.7,1127.6 L189.7,1127.5 L192.7,1127.4 L195.7,1127.3 L198.7,1127.3 L201.7,1127.2 L204.7,1127.1 L207.8,1127.0 L210.8,1126.9 L213.8,1126.9 L216.8,1126.8 L219.8,1126.7 L222.8,1126.6 L225.8,1126.5 L228.9,1126.5 L231.9,1126.4 L234.9,1126.3 L237.9,1126.2 L240.9,1126.1 L243.9,1126.1 L246.9,1126.0 L249.9,1125.9 L253.0,1125.8 L256.0,1125.7 L259.0,1125.6 L262.0,1125.6 L265.0,1125.5 L268.0,1125.4 L271.0,1125.3 L274.1,1125.2 L277.1,1125.1 L280.1,1125.0 L283.1,1125.0 L286.1,1124.9 L289.1,1124.8 L292.1,1124.7 L295.1,1124.6 L298.2,1124.5 L301.2,1124.4 L304.2,1124.3 L307.2,1124.2 L310.2,1124.1 L313.2,1124.0 L316.2,1123.9 L319.2,1123.8 L322.3,1123.7 L325.3,1123.6 L328.3,1123.5 L331.3,1123.4 L334.3,1123.3 L337.3,1123.2 L340.3,1123.1 L343.3,1122.9 L346.4,1122.8 L349.4,1122.7 L352.4,1122.6 L355.4,1122.5 L358.4,1122.4 L361.4,1122.2 L364.4,1122.1 L367.4,1122.0 L370.4,1121.9 L373.5,1121.7 L376.5,1121.6 L379.5,1121.5 L382.5,1121.3 L385.5,1121.2 L388.5,1121.1 L391.5,1120.9 L394.5,1120.8 L397.5,1120.6 L400.6,1120.5 L403.6,1120.3 L406.6,1120.2 L409.6,1120.0 L412.6,1119.9 L415.6,1119.7 L418.6,1119.6 L421.6,1119.4 L424.6,1119.2 L427.6,1119.1 L430.6,1118.9 L433.7,1118.7 L436.7,1118.6 L439.7,1118.4 L442.7,1118.2 L445.7,1118.0 L448.7,1117.8 L451.7,1117.6 L454.7,1117.5 L457.7,1117.3 L460.7,1117.1 L463.7,1116.9 L466.7,1116.7 L469.8,1116.5 L472.8,1116.3 L475.8,1116.1 L478.8,1115.9 L481.8,1115.6 L484.8,1115.4 L487.8,1115.2 L490.8,1115.0 L493.8,1114.8 L496.8,1114.5 L499.8,1114.3 L502.8,1114.1 L505.8,1113.8 L508.8,1113.6 L511.8,1113.3 L514.9,1113.1 L517.9,1112.8 L520.9,1112.6 L523.9,1112.3 L526.9,1112.1 L529.9,1111.8 L532.9,1111.5 L535.9,1111.3 L538.9,1111.0 L541.9,1110.7 L544.9,1110.4 L547.9,1110.2 L550.9,1109.9 L553.9,1109.6 L556.9,1109.3 L559.9,1109.0 L562.9,1108.7 L565.9,1108.4 L568.9,1108.0 L571.9,1107.7 L574.9,1107.4 L577.9,1107.1 L580.9,1106.7 L583.9,1106.4 L586.9,1106.0 L589.9,1105.7 L592.9,1105.3 L595.9,1104.9 L598.9,1104.5 L601.9,1104.1 L604.9,1103.7 L607.8,1103.3 L610.8,1102.9 L613.8,1102.4 L616.8,1102.0 L619.7,1101.5 L622.7,1101.0 L625.7,1100.5 L628.7,1100.0 L631.6,1099.5 L634.6,1099.0 L637.5,1098.4 L640.5,1097.8 L643.4,1097.3 L646.4,1096.7 L649.3,1096.1 L652.3,1095.5 L655.2,1094.8 L658.2,1094.2 L661.1,1093.5 L664.0,1092.9 L667.0,1092.2 L669.9,1091.6 L672.9,1090.9 L675.8,1090.2 L678.7,1089.6 L681.7,1088.9 L684.6,1088.2 L687.6,1087.6 L690.5,1086.9 L693.4,1086.2 L696.4,1085.5 L699.3,1084.8 L702.3,1084.1 L705.2,1083.3 L708.1,1082.6 L711.0,1081.8 L714.0,1081.0 L716.9,1080.2 L719.8,1079.3 L722.7,1078.4 L725.5,1077.5 L728.4,1076.5 L731.2,1075.5 L734.1,1074.5 L736.9,1073.4 L739.7,1072.2 L742.5,1071.1 L745.2,1069.8 L747.9,1068.5 L750.6,1067.2 L753.3,1065.8 L755.9,1064.4 L758.6,1062.9 L761.1,1061.4 L763.7,1059.8 L766.2,1058.2 L768.7,1056.5 L771.1,1054.8 L773.5,1053.0 L775.9,1051.1 L778.2,1049.2 L780.5,1047.2 L782.8,1045.2 L785.0,1043.2 L787.1,1041.1 L789.3,1039.0 L791.4,1036.8 L793.4,1034.6 L795.5,1032.3 L797.4,1030.0 L799.4,1027.7 L801.3,1025.4 L803.2,1023.0 L805.1,1020.6 L806.9,1018.2 L808.6,1015.8 L810.4,1013.3 L812.1,1010.8 L813.8,1008.3 L815.5,1005.8 L817.1,1003.2 L818.7,1000.7 L820.3,998.1 L821.9,995.5 L823.4,993.0 L824.9,990.4 L826.4,987.7 L827.9,985.1 L829.4,982.5 L830.9,979.9 L832.4,977.2 L833.8,974.6 L835.3,972.0 L836.7,969.3 L838.2,966.7 L839.6,964.1 L841.1,961.4 L842.5,958.8 L844.0,956.2 L845.5,953.5 L846.9,950.9 L848.4,948.3" fill="none" stroke="#000000" stroke-width="3.3" stroke-linecap="round" stroke-linejoin="round"/>
<rect x="1215" y="141.0" width="132.5" height="6.4" fill="#000000"/>
<rect x="1217.7" y="194.8" width="132.3" height="6.4" fill="#3a0000"/>
<rect x="1217.7" y="248.3" width="132.3" height="6.4" fill="#0b5e1e"/>
<rect x="1213.5" y="303.3" width="131.9" height="6.4" fill="#e6e800"/>
<rect x="1213.5" y="356.8" width="131.9" height="6.4" fill="#1c0c50"/>
<rect x="1217.7" y="423.8" width="132.3" height="6.4" fill="#0c1a6c"/>
<rect x="1273" y="713.0" width="132.9" height="6.4" fill="#000000"/>
<rect x="1286.9" y="766.8" width="132.2" height="6.4" fill="#3a0000"/>
<rect x="1286.9" y="821.1" width="132.2" height="6.4" fill="#0b5e1e"/>
<rect x="1273" y="875.1" width="132.9" height="6.4" fill="#e6e800"/>
<rect x="1286.9" y="943.4" width="132.2" height="6.4" fill="#0c1a6c"/>
<rect x="1273" y="983.1" width="132.9" height="6.4" fill="#1c0c50"/>
<text x="91" y="131" font-family="'Liberation Sans', sans-serif" font-size="25" textLength="63.0" lengthAdjust="spacingAndGlyphs" fill="#000" stroke="#000" stroke-width="0.95">320.0</text>
<text x="91" y="228.8" font-family="'Liberation Sans', sans-serif" font-size="25" textLength="63.0" lengthAdjust="spacingAndGlyphs" fill="#000" stroke="#000" stroke-width="0.95">240.0</text>
<text x="93" y="327" font-family="'Liberation Sans', sans-serif" font-size="25" textLength="61.0" lengthAdjust="spacingAndGlyphs" fill="#000" stroke="#000" stroke-width="0.95">160.0</text>
<text x="106" y="425" font-family="'Liberation Sans', sans-serif" font-size="25" textLength="50.0" lengthAdjust="spacingAndGlyphs" fill="#000" stroke="#000" stroke-width="0.95">80.0</text>
<text x="121" y="506.3" font-family="'Liberation Sans', sans-serif" font-size="25" textLength="35.0" lengthAdjust="spacingAndGlyphs" fill="#000" stroke="#000" stroke-width="0.95">0.0</text>
<text x="187" y="564.4" font-family="'Liberation Sans', sans-serif" font-size="25" textLength="33.8" lengthAdjust="spacingAndGlyphs" fill="#000" stroke="#000" stroke-width="0.95">0.0</text>
<text x="323" y="564.4" font-family="'Liberation Sans', sans-serif" font-size="25" textLength="36.5" lengthAdjust="spacingAndGlyphs" fill="#000" stroke="#000" stroke-width="0.95">2.0</text>
<text x="482" y="564.4" font-family="'Liberation Sans', sans-serif" font-size="25" textLength="36.0" lengthAdjust="spacingAndGlyphs" fill="#000" stroke="#000" stroke-width="0.95">4.0</text>
<text x="639" y="564.4" font-family="'Liberation Sans', sans-serif" font-size="25" textLength="36.6" lengthAdjust="spacingAndGlyphs" fill="#000" stroke="#000" stroke-width="0.95">6.0</text>
<text x="797" y="564.4" font-family="'Liberation Sans', sans-serif" font-size="25" textLength="36.5" lengthAdjust="spacingAndGlyphs" fill="#000" stroke="#000" stroke-width="0.95">8.0</text>
<text x="949" y="564.4" font-family="'Liberation Sans', sans-serif" font-size="25" textLength="48.5" lengthAdjust="spacingAndGlyphs" fill="#000" stroke="#000" stroke-width="0.95">10.0</text>
<text x="1107" y="564.4" font-family="'Liberation Sans', sans-serif" font-size="25" textLength="48.6" lengthAdjust="spacingAndGlyphs" fill="#000" stroke="#000" stroke-width="0.95">12.0</text>
<text x="1264.8" y="564.4" font-family="'Liberation Sans', sans-serif" font-size="25" textLength="48.4" lengthAdjust="spacingAndGlyphs" fill="#000" stroke="#000" stroke-width="0.95">14.0</text>
<text x="1422.9" y="564.4" font-family="'Liberation Sans', sans-serif" font-size="25" textLength="48.4" lengthAdjust="spacingAndGlyphs" fill="#000" stroke="#000" stroke-width="0.95">16.0</text>
<text x="1532" y="564.4" font-family="'Liberation Sans', sans-serif" font-size="25" textLength="47.7" lengthAdjust="spacingAndGlyphs" fill="#000" stroke="#000" stroke-width="0.95">18.0</text>
<text x="29.4" y="763.3" font-family="'Liberation Sans', sans-serif" font-size="26.5" textLength="65.1" lengthAdjust="spacingAndGlyphs" fill="#000" stroke="#000" stroke-width="0.95">200.0</text>
<text x="30.9" y="840.5" font-family="'Liberation Sans', sans-serif" font-size="26.5" textLength="63.6" lengthAdjust="spacingAndGlyphs" fill="#000" stroke="#000" stroke-width="0.95">160.0</text>
<text x="31.3" y="917.4" font-family="'Liberation Sans', sans-serif" font-size="26.5" textLength="63.2" lengthAdjust="spacingAndGlyphs" fill="#000" stroke="#000" stroke-width="0.95">120.0</text>
<text x="45.3" y="993.8" font-family="'Liberation Sans', sans-serif" font-size="26.5" textLength="51.2" lengthAdjust="spacingAndGlyphs" fill="#000" stroke="#000" stroke-width="0.95">80.0</text>
<text x="45.3" y="1071" font-family="'Liberation Sans', sans-serif" font-size="26.5" textLength="51.2" lengthAdjust="spacingAndGlyphs" fill="#000" stroke="#000" stroke-width="0.95">40.0</text>
<text x="60.3" y="1130.8" font-family="'Liberation Sans', sans-serif" font-size="26.5" textLength="36.2" lengthAdjust="spacingAndGlyphs" fill="#000" stroke="#000" stroke-width="0.95">0.0</text>
<text x="127.5" y="1189.3" font-family="'Liberation Sans', sans-serif" font-size="26.5" textLength="35.5" lengthAdjust="spacingAndGlyphs" fill="#000" stroke="#000" stroke-width="0.95">0.0</text>
<text x="261" y="1189.3" font-family="'Liberation Sans', sans-serif" font-size="26.5" textLength="36.0" lengthAdjust="spacingAndGlyphs" fill="#000" stroke="#000" stroke-width="0.95">2.0</text>
<text x="414" y="1189.3" font-family="'Liberation Sans', sans-serif" font-size="26.5" textLength="38.3" lengthAdjust="spacingAndGlyphs" fill="#000" stroke="#000" stroke-width="0.95">4.0</text>
<text x="568.5" y="1189.3" font-family="'Liberation Sans', sans-serif" font-size="26.5" textLength="37.2" lengthAdjust="spacingAndGlyphs" fill="#000" stroke="#000" stroke-width="0.95">6.0</text>
<text x="722.4" y="1189.3" font-family="'Liberation Sans', sans-serif" font-size="26.5" textLength="38.2" lengthAdjust="spacingAndGlyphs" fill="#000" stroke="#000" stroke-width="0.95">8.0</text>
<text x="870" y="1189.3" font-family="'Liberation Sans', sans-serif" font-size="26.5" textLength="51.0" lengthAdjust="spacingAndGlyphs" fill="#000" stroke="#000" stroke-width="0.95">10.0</text>
<text x="1023.5" y="1189.3" font-family="'Liberation Sans', sans-serif" font-size="26.5" textLength="50.7" lengthAdjust="spacingAndGlyphs" fill="#000" stroke="#000" stroke-width="0.95">12.0</text>
<text x="1178.2" y="1189.3" font-family="'Liberation Sans', sans-serif" font-size="26.5" textLength="50.3" lengthAdjust="spacingAndGlyphs" fill="#000" stroke="#000" stroke-width="0.95">14.0</text>
<text x="1331.6" y="1189.3" font-family="'Liberation Sans', sans-serif" font-size="26.5" textLength="50.3" lengthAdjust="spacingAndGlyphs" fill="#000" stroke="#000" stroke-width="0.95">16.0</text>
<text x="1486.3" y="1189.3" font-family="'Liberation Sans', sans-serif" font-size="26.5" textLength="49.9" lengthAdjust="spacingAndGlyphs" fill="#000" stroke="#000" stroke-width="0.95">18.0</text>
<text x="525.4" y="72.5" font-family="'Liberation Sans', sans-serif" font-weight="bold" font-size="40" textLength="120.8" lengthAdjust="spacingAndGlyphs" fill="#10126a">2.04 h</text>
<text x="625.7" y="149.6" font-family="'Liberation Sans', sans-serif" font-weight="bold" font-size="40" textLength="120.9" lengthAdjust="spacingAndGlyphs" fill="#170c48">3.37 h</text>
<text x="824.7" y="221" font-family="'Liberation Sans', sans-serif" font-weight="bold" font-size="40" textLength="121.4" lengthAdjust="spacingAndGlyphs" fill="#c6c51f">4.01 h</text>
<text x="768.6" y="307" font-family="'Liberation Sans', sans-serif" font-weight="bold" font-size="40" textLength="132.9" lengthAdjust="spacingAndGlyphs" fill="#0a6a1c">4.87  h</text>
<text x="678.9" y="373" font-family="'Liberation Sans', sans-serif" font-weight="bold" font-size="40" textLength="119.6" lengthAdjust="spacingAndGlyphs" fill="#5e0612">5.94 h</text>
<text x="811.2" y="437.5" font-family="'Liberation Sans', sans-serif" font-weight="bold" font-size="40" textLength="120.6" lengthAdjust="spacingAndGlyphs" fill="#000000">7.89 h</text>
<text x="522.6" y="604" font-family="'Liberation Sans', sans-serif" font-weight="bold" font-size="40" textLength="122.4" lengthAdjust="spacingAndGlyphs" fill="#281060">4.98 h</text>
<text x="635.1" y="671.6" font-family="'Liberation Sans', sans-serif" font-weight="bold" font-size="40" textLength="121.5" lengthAdjust="spacingAndGlyphs" fill="#0c1862">6.23 h</text>
<text x="686.3" y="779.4" font-family="'Liberation Sans', sans-serif" font-weight="bold" font-size="40" textLength="120.8" lengthAdjust="spacingAndGlyphs" fill="#c6c51f">6.51 h</text>
<text x="682.4" y="887.8" font-family="'Liberation Sans', sans-serif" font-weight="bold" font-size="40" textLength="132.0" lengthAdjust="spacingAndGlyphs" fill="#0a6a1c">6.94  h</text>
<text x="575.4" y="975.3" font-family="'Liberation Sans', sans-serif" font-weight="bold" font-size="40" textLength="121.0" lengthAdjust="spacingAndGlyphs" fill="#5e0612">8.07 h</text>
<text x="618.3" y="1057.7" font-family="'Liberation Sans', sans-serif" font-weight="bold" font-size="40" textLength="121.0" lengthAdjust="spacingAndGlyphs" fill="#000000">8.61 h</text>
<text x="1365.2" y="162.5" font-family="'Liberation Sans', sans-serif" font-weight="bold" font-size="41" textLength="131.0" lengthAdjust="spacingAndGlyphs" fill="#000000">SBO<tspan dy="2.6" stroke="#000000" stroke-width="1.6">_</tspan><tspan dy="-2.6">0</tspan></text>
<text x="1365.2" y="216.9" font-family="'Liberation Sans', sans-serif" font-weight="bold" font-size="41" textLength="131.0" lengthAdjust="spacingAndGlyphs" fill="#5a0012">SBO<tspan dy="2.6" stroke="#5a0012" stroke-width="1.6">_</tspan><tspan dy="-2.6">7</tspan></text>
<text x="1365.2" y="270.2" font-family="'Liberation Sans', sans-serif" font-weight="bold" font-size="41" textLength="155.4" lengthAdjust="spacingAndGlyphs" fill="#0b6a1e">SBO<tspan dy="2.6" stroke="#0b6a1e" stroke-width="1.6">_</tspan><tspan dy="-2.6">14</tspan></text>
<text x="1365.2" y="324.8" font-family="'Liberation Sans', sans-serif" font-weight="bold" font-size="41" textLength="154.4" lengthAdjust="spacingAndGlyphs" fill="#c6c51f">SBO<tspan dy="2.6" stroke="#c6c51f" stroke-width="1.6">_</tspan><tspan dy="-2.6">21</tspan></text>
<text x="1365.2" y="378.3" font-family="'Liberation Sans', sans-serif" font-weight="bold" font-size="41" textLength="155.4" lengthAdjust="spacingAndGlyphs" fill="#170c48">SBO<tspan dy="2.6" stroke="#170c48" stroke-width="1.6">_</tspan><tspan dy="-2.6">28</tspan></text>
<text x="1365.2" y="432.0" font-family="'Liberation Sans', sans-serif" font-weight="bold" font-size="41" textLength="154.4" lengthAdjust="spacingAndGlyphs" fill="#0c1c70">SBO<tspan dy="2.6" stroke="#0c1c70" stroke-width="1.6">_</tspan><tspan dy="-2.6">35</tspan></text>
<text x="1425.4" y="726.3" font-family="'Liberation Sans', sans-serif" font-weight="bold" font-size="41" textLength="161.8" lengthAdjust="spacingAndGlyphs" fill="#000000">EVOO<tspan dy="2.6" stroke="#000000" stroke-width="1.6">_</tspan><tspan dy="-2.6">0</tspan></text>
<text x="1425.4" y="780.3" font-family="'Liberation Sans', sans-serif" font-weight="bold" font-size="41" textLength="161.8" lengthAdjust="spacingAndGlyphs" fill="#5a0012">EVOO<tspan dy="2.6" stroke="#5a0012" stroke-width="1.6">_</tspan><tspan dy="-2.6">7</tspan></text>
<text x="1425.4" y="833.9" font-family="'Liberation Sans', sans-serif" font-weight="bold" font-size="41" textLength="185.3" lengthAdjust="spacingAndGlyphs" fill="#0b6a1e">EVOO<tspan dy="2.6" stroke="#0b6a1e" stroke-width="1.6">_</tspan><tspan dy="-2.6">14</tspan></text>
<text x="1425.4" y="887.9" font-family="'Liberation Sans', sans-serif" font-weight="bold" font-size="41" textLength="185.3" lengthAdjust="spacingAndGlyphs" fill="#c6c51f">EVOO<tspan dy="2.6" stroke="#c6c51f" stroke-width="1.6">_</tspan><tspan dy="-2.6">28</tspan></text>
<text x="1425.4" y="941.4" font-family="'Liberation Sans', sans-serif" font-weight="bold" font-size="41" textLength="185.3" lengthAdjust="spacingAndGlyphs" fill="#0c1c70">EVOO<tspan dy="2.6" stroke="#0c1c70" stroke-width="1.6">_</tspan><tspan dy="-2.6">21</tspan></text>
<text x="1425.4" y="996.1" font-family="'Liberation Sans', sans-serif" font-weight="bold" font-size="41" textLength="185.3" lengthAdjust="spacingAndGlyphs" fill="#170c48">EVOO<tspan dy="2.6" stroke="#170c48" stroke-width="1.6">_</tspan><tspan dy="-2.6">35</tspan></text>
<text x="14.7" y="37" font-family="'Liberation Sans', sans-serif" font-weight="bold" font-size="42" textLength="53.7" lengthAdjust="spacingAndGlyphs" fill="#5a0810">(A)</text>
<text x="22.7" y="613.9" font-family="'Liberation Sans', sans-serif" font-weight="bold" font-size="41" textLength="52.1" lengthAdjust="spacingAndGlyphs" fill="#5a0810">(B)</text>
<text x="81.6" y="36.8" font-family="'Liberation Sans', sans-serif" font-size="26" textLength="84.4" lengthAdjust="spacing" fill="#000" stroke="#000" stroke-width="1.0">μS/cm</text>
<text x="19.3" y="646" font-family="'Liberation Sans', sans-serif" font-size="27" textLength="88" lengthAdjust="spacing" fill="#000" stroke="#000" stroke-width="1.0">μS/cm</text>
<text x="1589" y="572.5" font-family="'Liberation Sans', sans-serif" font-weight="bold" font-size="24.6" textLength="14.2" lengthAdjust="spacingAndGlyphs" fill="#000">h</text>
<text x="1572.6" y="1197.6" font-family="'Liberation Sans', sans-serif" font-weight="bold" font-size="24.6" textLength="12.9" lengthAdjust="spacingAndGlyphs" fill="#000">h</text>
</svg>
</body></html>
